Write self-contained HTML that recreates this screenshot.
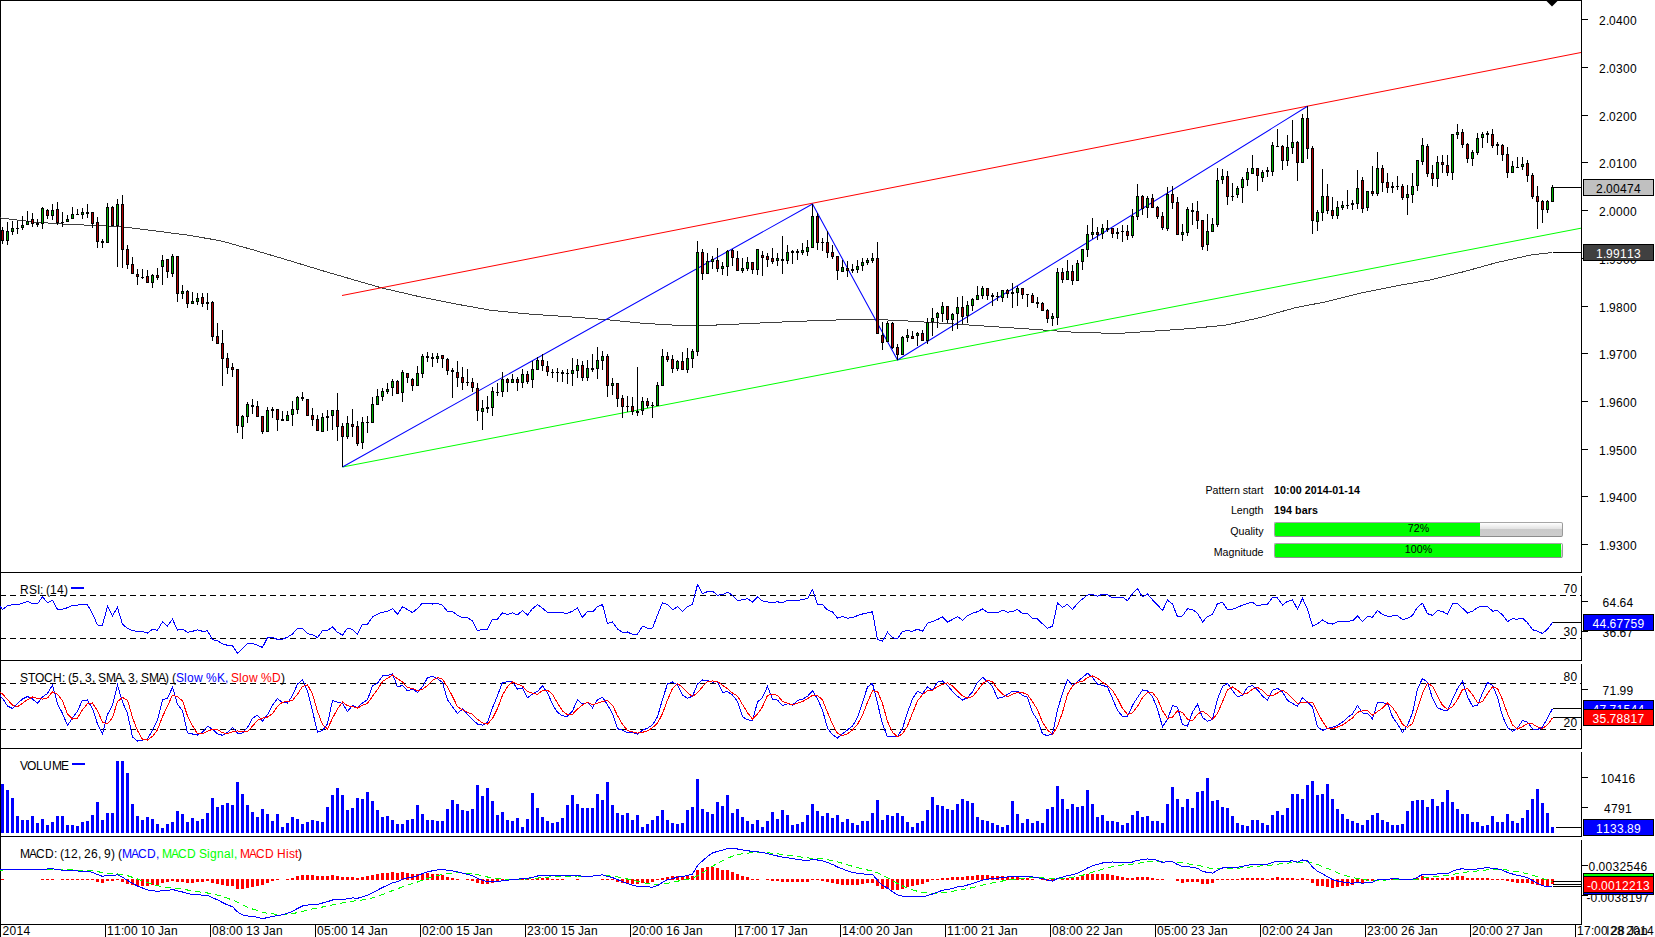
<!DOCTYPE html><html><head><meta charset="utf-8"><title>Chart</title><style>
html,body{margin:0;padding:0;background:#fff}
body{width:1655px;height:937px;position:relative;overflow:hidden;font-family:"Liberation Sans",Arial,sans-serif;font-size:12px;color:#000}
.ib{position:absolute;font-size:10.67px;white-space:nowrap;line-height:13px}
.il{left:1140px;width:123.5px;text-align:right}
.iv{left:1274px;font-weight:bold;letter-spacing:0.08px}
.bar{position:absolute;left:1274px;width:287px;height:13px;border:1px solid #a6a6a6;border-bottom-color:#8c8c8c;border-right-color:#9a9a9a;border-radius:2px;background:linear-gradient(#ffffff 0,#e2e2e2 46%,#cacaca 50%,#cdcdcd 100%);overflow:hidden}
.bar i{position:absolute;left:0;top:0;bottom:0;background:#00ff00}
.bar b{position:absolute;left:0;right:0;top:0;text-align:center;font-weight:normal;font-size:10.67px;line-height:11px}

</style></head><body>
<svg width="1655" height="937" viewBox="0 0 1655 937" style="position:absolute;left:0;top:0">
<g shape-rendering="crispEdges">
<rect x="0" y="0" width="1582" height="1" fill="#000"/>
<rect x="0" y="0" width="1" height="937" fill="#000"/>
<rect x="0" y="572" width="1582" height="1" fill="#000"/>
<rect x="0" y="660" width="1582" height="1" fill="#000"/>
<rect x="0" y="748" width="1582" height="1" fill="#000"/>
<rect x="0" y="836" width="1582" height="1" fill="#000"/>
<rect x="0" y="924" width="1582" height="1" fill="#000"/>
<rect x="1581" y="0" width="1" height="573" fill="#000"/>
<rect x="1581" y="576" width="1" height="85" fill="#000"/>
<rect x="1581" y="664" width="1" height="85" fill="#000"/>
<rect x="1581" y="752" width="1" height="85" fill="#000"/>
<rect x="1581" y="840" width="1" height="85" fill="#000"/>
<rect x="1582" y="19" width="6" height="1" fill="#000"/>
<rect x="1582" y="67" width="6" height="1" fill="#000"/>
<rect x="1582" y="115" width="6" height="1" fill="#000"/>
<rect x="1582" y="162" width="6" height="1" fill="#000"/>
<rect x="1582" y="210" width="6" height="1" fill="#000"/>
<rect x="1582" y="258" width="6" height="1" fill="#000"/>
<rect x="1582" y="306" width="6" height="1" fill="#000"/>
<rect x="1582" y="353" width="6" height="1" fill="#000"/>
<rect x="1582" y="401" width="6" height="1" fill="#000"/>
<rect x="1582" y="449" width="6" height="1" fill="#000"/>
<rect x="1582" y="496" width="6" height="1" fill="#000"/>
<rect x="1582" y="544" width="6" height="1" fill="#000"/>
<rect x="1582" y="601" width="6" height="1" fill="#000"/>
<rect x="1582" y="631" width="6" height="1" fill="#000"/>
<rect x="1582" y="689" width="6" height="1" fill="#000"/>
<rect x="1582" y="777" width="6" height="1" fill="#000"/>
<rect x="1582" y="807" width="6" height="1" fill="#000"/>
<rect x="1582" y="865" width="6" height="1" fill="#000"/>
<rect x="1582" y="895" width="6" height="1" fill="#000"/>
<rect x="105" y="925" width="1" height="12" fill="#000"/>
<rect x="210" y="925" width="1" height="12" fill="#000"/>
<rect x="315" y="925" width="1" height="12" fill="#000"/>
<rect x="420" y="925" width="1" height="12" fill="#000"/>
<rect x="525" y="925" width="1" height="12" fill="#000"/>
<rect x="630" y="925" width="1" height="12" fill="#000"/>
<rect x="735" y="925" width="1" height="12" fill="#000"/>
<rect x="840" y="925" width="1" height="12" fill="#000"/>
<rect x="945" y="925" width="1" height="12" fill="#000"/>
<rect x="1050" y="925" width="1" height="12" fill="#000"/>
<rect x="1155" y="925" width="1" height="12" fill="#000"/>
<rect x="1260" y="925" width="1" height="12" fill="#000"/>
<rect x="1365" y="925" width="1" height="12" fill="#000"/>
<rect x="1470" y="925" width="1" height="12" fill="#000"/>
<rect x="1575" y="925" width="1" height="12" fill="#000"/>
</g>
<polyline points="0.0,217.9 33.8,222.0 67.7,224.4 101.5,225.7 125.0,227.1 152.0,230.5 186.0,234.9 220.0,240.6 254.0,250.1 288.0,260.2 321.5,270.4 355.0,280.2 382.0,288.0 423.0,297.5 457.0,304.2 491.0,310.3 524.5,313.7 540.0,314.8 573.8,317.1 607.7,319.8 641.5,323.2 675.4,325.2 695.7,325.9 726.0,324.6 777.0,322.2 827.6,320.2 871.6,319.2 912.0,321.2 963.0,324.6 1013.8,328.0 1047.6,330.3 1073.8,332.2 1117.8,333.5 1158.4,330.8 1192.3,328.4 1226.0,325.1 1260.0,317.6 1293.8,308.1 1327.7,301.4 1361.5,292.9 1395.3,286.1 1429.2,280.1 1463.0,271.9 1497.0,262.5 1530.7,255.0 1552.5,252.5" fill="none" stroke="#404040" stroke-width="1" shape-rendering="crispEdges"/>
<line x1="1552.5" y1="252.5" x2="1581" y2="252.5" stroke="#000" stroke-width="1" shape-rendering="crispEdges"/>
<line x1="342" y1="295.5" x2="1581" y2="52.5" stroke="#ff0000" stroke-width="1"/>
<line x1="342.5" y1="467" x2="1581" y2="228.2" stroke="#00ff00" stroke-width="1"/>
<polyline points="342.5,467.0 812.5,204.0 897.5,360.0 1307.5,106.3" fill="none" stroke="#0000ff" stroke-width="1.05" />
<g shape-rendering="crispEdges">
<rect x="2" y="227" width="1" height="17" fill="#000"/>
<rect x="1" y="230" width="3" height="11" fill="#000"/>
<rect x="2" y="231" width="1" height="9" fill="#b00000"/>
<rect x="7" y="222" width="1" height="23" fill="#000"/>
<rect x="6" y="231" width="3" height="10" fill="#000"/>
<rect x="7" y="232" width="1" height="8" fill="#00b000"/>
<rect x="12" y="221" width="1" height="14" fill="#000"/>
<rect x="11" y="228" width="3" height="4" fill="#000"/>
<rect x="12" y="229" width="1" height="2" fill="#00b000"/>
<rect x="17" y="221" width="1" height="13" fill="#000"/>
<rect x="16" y="228" width="3" height="1" fill="#000"/>
<rect x="22" y="216" width="1" height="14" fill="#000"/>
<rect x="21" y="225" width="3" height="3" fill="#000"/>
<rect x="22" y="226" width="1" height="1" fill="#00b000"/>
<rect x="27" y="211" width="1" height="14" fill="#000"/>
<rect x="26" y="221" width="3" height="4" fill="#000"/>
<rect x="27" y="222" width="1" height="2" fill="#00b000"/>
<rect x="32" y="213" width="1" height="14" fill="#000"/>
<rect x="31" y="219" width="3" height="5" fill="#000"/>
<rect x="32" y="220" width="1" height="3" fill="#b00000"/>
<rect x="37" y="219" width="1" height="8" fill="#000"/>
<rect x="36" y="223" width="3" height="2" fill="#000"/>
<rect x="42" y="207" width="1" height="22" fill="#000"/>
<rect x="41" y="208" width="3" height="16" fill="#000"/>
<rect x="42" y="209" width="1" height="14" fill="#00b000"/>
<rect x="47" y="209" width="1" height="10" fill="#000"/>
<rect x="46" y="210" width="3" height="6" fill="#000"/>
<rect x="47" y="211" width="1" height="4" fill="#b00000"/>
<rect x="52" y="204" width="1" height="16" fill="#000"/>
<rect x="51" y="210" width="3" height="6" fill="#000"/>
<rect x="52" y="211" width="1" height="4" fill="#00b000"/>
<rect x="57" y="202" width="1" height="23" fill="#000"/>
<rect x="56" y="209" width="3" height="14" fill="#000"/>
<rect x="57" y="210" width="1" height="12" fill="#b00000"/>
<rect x="62" y="212" width="1" height="15" fill="#000"/>
<rect x="61" y="222" width="3" height="1" fill="#000"/>
<rect x="67" y="215" width="1" height="7" fill="#000"/>
<rect x="66" y="219" width="3" height="3" fill="#000"/>
<rect x="67" y="220" width="1" height="1" fill="#00b000"/>
<rect x="72" y="207" width="1" height="12" fill="#000"/>
<rect x="71" y="214" width="3" height="5" fill="#000"/>
<rect x="72" y="215" width="1" height="3" fill="#00b000"/>
<rect x="77" y="209" width="1" height="5" fill="#000"/>
<rect x="76" y="214" width="3" height="1" fill="#000"/>
<rect x="82" y="208" width="1" height="11" fill="#000"/>
<rect x="81" y="212" width="3" height="3" fill="#000"/>
<rect x="82" y="213" width="1" height="1" fill="#00b000"/>
<rect x="87" y="204" width="1" height="14" fill="#000"/>
<rect x="86" y="212" width="3" height="2" fill="#000"/>
<rect x="92" y="212" width="1" height="16" fill="#000"/>
<rect x="91" y="212" width="3" height="12" fill="#000"/>
<rect x="92" y="213" width="1" height="10" fill="#b00000"/>
<rect x="97" y="217" width="1" height="31" fill="#000"/>
<rect x="96" y="222" width="3" height="20" fill="#000"/>
<rect x="97" y="223" width="1" height="18" fill="#b00000"/>
<rect x="102" y="239" width="1" height="9" fill="#000"/>
<rect x="101" y="241" width="3" height="2" fill="#000"/>
<rect x="107" y="203" width="1" height="40" fill="#000"/>
<rect x="106" y="207" width="3" height="36" fill="#000"/>
<rect x="107" y="208" width="1" height="34" fill="#00b000"/>
<rect x="112" y="206" width="1" height="20" fill="#000"/>
<rect x="111" y="207" width="3" height="19" fill="#000"/>
<rect x="112" y="208" width="1" height="17" fill="#b00000"/>
<rect x="117" y="199" width="1" height="68" fill="#000"/>
<rect x="116" y="204" width="3" height="22" fill="#000"/>
<rect x="117" y="205" width="1" height="20" fill="#00b000"/>
<rect x="122" y="195" width="1" height="73" fill="#000"/>
<rect x="121" y="204" width="3" height="46" fill="#000"/>
<rect x="122" y="205" width="1" height="44" fill="#b00000"/>
<rect x="127" y="245" width="1" height="24" fill="#000"/>
<rect x="126" y="249" width="3" height="16" fill="#000"/>
<rect x="127" y="250" width="1" height="14" fill="#b00000"/>
<rect x="132" y="257" width="1" height="17" fill="#000"/>
<rect x="131" y="264" width="3" height="10" fill="#000"/>
<rect x="132" y="265" width="1" height="8" fill="#b00000"/>
<rect x="137" y="269" width="1" height="16" fill="#000"/>
<rect x="136" y="274" width="3" height="3" fill="#000"/>
<rect x="137" y="275" width="1" height="1" fill="#b00000"/>
<rect x="142" y="269" width="1" height="10" fill="#000"/>
<rect x="141" y="277" width="3" height="1" fill="#000"/>
<rect x="147" y="270" width="1" height="13" fill="#000"/>
<rect x="146" y="276" width="3" height="7" fill="#000"/>
<rect x="147" y="277" width="1" height="5" fill="#b00000"/>
<rect x="152" y="274" width="1" height="14" fill="#000"/>
<rect x="151" y="275" width="3" height="8" fill="#000"/>
<rect x="152" y="276" width="1" height="6" fill="#00b000"/>
<rect x="157" y="268" width="1" height="12" fill="#000"/>
<rect x="156" y="275" width="3" height="3" fill="#000"/>
<rect x="157" y="276" width="1" height="1" fill="#b00000"/>
<rect x="162" y="255" width="1" height="30" fill="#000"/>
<rect x="161" y="260" width="3" height="7" fill="#000"/>
<rect x="162" y="261" width="1" height="5" fill="#00b000"/>
<rect x="167" y="259" width="1" height="19" fill="#000"/>
<rect x="166" y="259" width="3" height="13" fill="#000"/>
<rect x="167" y="260" width="1" height="11" fill="#b00000"/>
<rect x="172" y="254" width="1" height="23" fill="#000"/>
<rect x="171" y="256" width="3" height="18" fill="#000"/>
<rect x="172" y="257" width="1" height="16" fill="#00b000"/>
<rect x="177" y="256" width="1" height="46" fill="#000"/>
<rect x="176" y="256" width="3" height="38" fill="#000"/>
<rect x="177" y="257" width="1" height="36" fill="#b00000"/>
<rect x="182" y="285" width="1" height="14" fill="#000"/>
<rect x="181" y="291" width="3" height="3" fill="#000"/>
<rect x="182" y="292" width="1" height="1" fill="#00b000"/>
<rect x="187" y="290" width="1" height="18" fill="#000"/>
<rect x="186" y="291" width="3" height="13" fill="#000"/>
<rect x="187" y="292" width="1" height="11" fill="#b00000"/>
<rect x="192" y="292" width="1" height="12" fill="#000"/>
<rect x="191" y="301" width="3" height="3" fill="#000"/>
<rect x="192" y="302" width="1" height="1" fill="#00b000"/>
<rect x="197" y="293" width="1" height="12" fill="#000"/>
<rect x="196" y="298" width="3" height="4" fill="#000"/>
<rect x="197" y="299" width="1" height="2" fill="#00b000"/>
<rect x="202" y="293" width="1" height="14" fill="#000"/>
<rect x="201" y="297" width="3" height="7" fill="#000"/>
<rect x="202" y="298" width="1" height="5" fill="#b00000"/>
<rect x="207" y="293" width="1" height="17" fill="#000"/>
<rect x="206" y="302" width="3" height="2" fill="#000"/>
<rect x="212" y="301" width="1" height="40" fill="#000"/>
<rect x="211" y="302" width="3" height="35" fill="#000"/>
<rect x="212" y="303" width="1" height="33" fill="#b00000"/>
<rect x="217" y="323" width="1" height="21" fill="#000"/>
<rect x="216" y="336" width="3" height="8" fill="#000"/>
<rect x="217" y="337" width="1" height="6" fill="#b00000"/>
<rect x="222" y="330" width="1" height="56" fill="#000"/>
<rect x="221" y="343" width="3" height="16" fill="#000"/>
<rect x="222" y="344" width="1" height="14" fill="#b00000"/>
<rect x="227" y="353" width="1" height="21" fill="#000"/>
<rect x="226" y="358" width="3" height="10" fill="#000"/>
<rect x="227" y="359" width="1" height="8" fill="#b00000"/>
<rect x="232" y="363" width="1" height="14" fill="#000"/>
<rect x="231" y="367" width="3" height="3" fill="#000"/>
<rect x="232" y="368" width="1" height="1" fill="#b00000"/>
<rect x="237" y="369" width="1" height="64" fill="#000"/>
<rect x="236" y="369" width="3" height="57" fill="#000"/>
<rect x="237" y="370" width="1" height="55" fill="#b00000"/>
<rect x="242" y="415" width="1" height="24" fill="#000"/>
<rect x="241" y="416" width="3" height="11" fill="#000"/>
<rect x="242" y="417" width="1" height="9" fill="#00b000"/>
<rect x="247" y="402" width="1" height="21" fill="#000"/>
<rect x="246" y="404" width="3" height="13" fill="#000"/>
<rect x="247" y="405" width="1" height="11" fill="#00b000"/>
<rect x="252" y="399" width="1" height="15" fill="#000"/>
<rect x="251" y="405" width="3" height="2" fill="#000"/>
<rect x="257" y="401" width="1" height="16" fill="#000"/>
<rect x="256" y="406" width="3" height="11" fill="#000"/>
<rect x="257" y="407" width="1" height="9" fill="#b00000"/>
<rect x="262" y="416" width="1" height="18" fill="#000"/>
<rect x="261" y="416" width="3" height="16" fill="#000"/>
<rect x="262" y="417" width="1" height="14" fill="#b00000"/>
<rect x="267" y="407" width="1" height="25" fill="#000"/>
<rect x="266" y="410" width="3" height="22" fill="#000"/>
<rect x="267" y="411" width="1" height="20" fill="#00b000"/>
<rect x="272" y="407" width="1" height="11" fill="#000"/>
<rect x="271" y="409" width="3" height="2" fill="#000"/>
<rect x="277" y="409" width="1" height="22" fill="#000"/>
<rect x="276" y="409" width="3" height="11" fill="#000"/>
<rect x="277" y="410" width="1" height="9" fill="#b00000"/>
<rect x="282" y="411" width="1" height="10" fill="#000"/>
<rect x="281" y="419" width="3" height="2" fill="#000"/>
<rect x="287" y="411" width="1" height="10" fill="#000"/>
<rect x="286" y="415" width="3" height="6" fill="#000"/>
<rect x="287" y="416" width="1" height="4" fill="#00b000"/>
<rect x="292" y="401" width="1" height="25" fill="#000"/>
<rect x="291" y="409" width="3" height="6" fill="#000"/>
<rect x="292" y="410" width="1" height="4" fill="#00b000"/>
<rect x="297" y="396" width="1" height="18" fill="#000"/>
<rect x="296" y="397" width="3" height="13" fill="#000"/>
<rect x="297" y="398" width="1" height="11" fill="#00b000"/>
<rect x="302" y="392" width="1" height="9" fill="#000"/>
<rect x="301" y="397" width="3" height="2" fill="#000"/>
<rect x="307" y="399" width="1" height="17" fill="#000"/>
<rect x="306" y="399" width="3" height="17" fill="#000"/>
<rect x="307" y="400" width="1" height="15" fill="#b00000"/>
<rect x="312" y="408" width="1" height="18" fill="#000"/>
<rect x="311" y="415" width="3" height="5" fill="#000"/>
<rect x="312" y="416" width="1" height="3" fill="#b00000"/>
<rect x="317" y="415" width="1" height="16" fill="#000"/>
<rect x="316" y="419" width="3" height="12" fill="#000"/>
<rect x="317" y="420" width="1" height="10" fill="#b00000"/>
<rect x="322" y="413" width="1" height="19" fill="#000"/>
<rect x="321" y="417" width="3" height="15" fill="#000"/>
<rect x="322" y="418" width="1" height="13" fill="#00b000"/>
<rect x="327" y="410" width="1" height="21" fill="#000"/>
<rect x="326" y="416" width="3" height="2" fill="#000"/>
<rect x="332" y="410" width="1" height="20" fill="#000"/>
<rect x="331" y="410" width="3" height="6" fill="#000"/>
<rect x="332" y="411" width="1" height="4" fill="#00b000"/>
<rect x="337" y="393" width="1" height="48" fill="#000"/>
<rect x="336" y="410" width="3" height="17" fill="#000"/>
<rect x="337" y="411" width="1" height="15" fill="#b00000"/>
<rect x="342" y="423" width="1" height="44" fill="#000"/>
<rect x="341" y="426" width="3" height="11" fill="#000"/>
<rect x="342" y="427" width="1" height="9" fill="#b00000"/>
<rect x="347" y="416" width="1" height="23" fill="#000"/>
<rect x="346" y="423" width="3" height="14" fill="#000"/>
<rect x="347" y="424" width="1" height="12" fill="#00b000"/>
<rect x="352" y="409" width="1" height="28" fill="#000"/>
<rect x="351" y="424" width="3" height="3" fill="#000"/>
<rect x="352" y="425" width="1" height="1" fill="#b00000"/>
<rect x="357" y="421" width="1" height="25" fill="#000"/>
<rect x="356" y="426" width="3" height="18" fill="#000"/>
<rect x="357" y="427" width="1" height="16" fill="#b00000"/>
<rect x="362" y="417" width="1" height="32" fill="#000"/>
<rect x="361" y="422" width="3" height="21" fill="#000"/>
<rect x="362" y="423" width="1" height="19" fill="#00b000"/>
<rect x="367" y="416" width="1" height="17" fill="#000"/>
<rect x="366" y="422" width="3" height="1" fill="#000"/>
<rect x="372" y="397" width="1" height="26" fill="#000"/>
<rect x="371" y="404" width="3" height="19" fill="#000"/>
<rect x="372" y="405" width="1" height="17" fill="#00b000"/>
<rect x="377" y="389" width="1" height="16" fill="#000"/>
<rect x="376" y="396" width="3" height="9" fill="#000"/>
<rect x="377" y="397" width="1" height="7" fill="#00b000"/>
<rect x="382" y="388" width="1" height="13" fill="#000"/>
<rect x="381" y="391" width="3" height="6" fill="#000"/>
<rect x="382" y="392" width="1" height="4" fill="#00b000"/>
<rect x="387" y="383" width="1" height="11" fill="#000"/>
<rect x="386" y="389" width="3" height="3" fill="#000"/>
<rect x="387" y="390" width="1" height="1" fill="#00b000"/>
<rect x="392" y="379" width="1" height="17" fill="#000"/>
<rect x="391" y="381" width="3" height="7" fill="#000"/>
<rect x="392" y="382" width="1" height="5" fill="#00b000"/>
<rect x="397" y="380" width="1" height="14" fill="#000"/>
<rect x="396" y="381" width="3" height="13" fill="#000"/>
<rect x="397" y="382" width="1" height="11" fill="#b00000"/>
<rect x="402" y="370" width="1" height="32" fill="#000"/>
<rect x="401" y="372" width="3" height="21" fill="#000"/>
<rect x="402" y="373" width="1" height="19" fill="#00b000"/>
<rect x="407" y="373" width="1" height="10" fill="#000"/>
<rect x="406" y="373" width="3" height="5" fill="#000"/>
<rect x="407" y="374" width="1" height="3" fill="#b00000"/>
<rect x="412" y="378" width="1" height="13" fill="#000"/>
<rect x="411" y="379" width="3" height="7" fill="#000"/>
<rect x="412" y="380" width="1" height="5" fill="#b00000"/>
<rect x="417" y="366" width="1" height="20" fill="#000"/>
<rect x="416" y="373" width="3" height="13" fill="#000"/>
<rect x="417" y="374" width="1" height="11" fill="#00b000"/>
<rect x="422" y="354" width="1" height="24" fill="#000"/>
<rect x="421" y="356" width="3" height="18" fill="#000"/>
<rect x="422" y="357" width="1" height="16" fill="#00b000"/>
<rect x="427" y="352" width="1" height="10" fill="#000"/>
<rect x="426" y="356" width="3" height="2" fill="#000"/>
<rect x="432" y="353" width="1" height="14" fill="#000"/>
<rect x="431" y="357" width="3" height="2" fill="#000"/>
<rect x="437" y="353" width="1" height="10" fill="#000"/>
<rect x="436" y="356" width="3" height="3" fill="#000"/>
<rect x="437" y="357" width="1" height="1" fill="#00b000"/>
<rect x="442" y="355" width="1" height="13" fill="#000"/>
<rect x="441" y="355" width="3" height="4" fill="#000"/>
<rect x="442" y="356" width="1" height="2" fill="#b00000"/>
<rect x="447" y="358" width="1" height="17" fill="#000"/>
<rect x="446" y="359" width="3" height="12" fill="#000"/>
<rect x="447" y="360" width="1" height="10" fill="#b00000"/>
<rect x="452" y="368" width="1" height="30" fill="#000"/>
<rect x="451" y="370" width="3" height="2" fill="#000"/>
<rect x="457" y="361" width="1" height="26" fill="#000"/>
<rect x="456" y="372" width="3" height="6" fill="#000"/>
<rect x="457" y="373" width="1" height="4" fill="#b00000"/>
<rect x="462" y="367" width="1" height="23" fill="#000"/>
<rect x="461" y="377" width="3" height="6" fill="#000"/>
<rect x="462" y="378" width="1" height="4" fill="#b00000"/>
<rect x="467" y="369" width="1" height="17" fill="#000"/>
<rect x="466" y="382" width="3" height="1" fill="#000"/>
<rect x="472" y="378" width="1" height="14" fill="#000"/>
<rect x="471" y="382" width="3" height="6" fill="#000"/>
<rect x="472" y="383" width="1" height="4" fill="#b00000"/>
<rect x="477" y="383" width="1" height="38" fill="#000"/>
<rect x="476" y="388" width="3" height="23" fill="#000"/>
<rect x="477" y="389" width="1" height="21" fill="#b00000"/>
<rect x="482" y="400" width="1" height="30" fill="#000"/>
<rect x="481" y="408" width="3" height="4" fill="#000"/>
<rect x="482" y="409" width="1" height="2" fill="#00b000"/>
<rect x="487" y="396" width="1" height="17" fill="#000"/>
<rect x="486" y="407" width="3" height="2" fill="#000"/>
<rect x="492" y="387" width="1" height="29" fill="#000"/>
<rect x="491" y="391" width="3" height="17" fill="#000"/>
<rect x="492" y="392" width="1" height="15" fill="#00b000"/>
<rect x="497" y="383" width="1" height="13" fill="#000"/>
<rect x="496" y="392" width="3" height="1" fill="#000"/>
<rect x="502" y="372" width="1" height="25" fill="#000"/>
<rect x="501" y="379" width="3" height="13" fill="#000"/>
<rect x="502" y="380" width="1" height="11" fill="#00b000"/>
<rect x="507" y="378" width="1" height="14" fill="#000"/>
<rect x="506" y="379" width="3" height="4" fill="#000"/>
<rect x="507" y="380" width="1" height="2" fill="#b00000"/>
<rect x="512" y="374" width="1" height="9" fill="#000"/>
<rect x="511" y="379" width="3" height="4" fill="#000"/>
<rect x="512" y="380" width="1" height="2" fill="#00b000"/>
<rect x="517" y="377" width="1" height="14" fill="#000"/>
<rect x="516" y="379" width="3" height="4" fill="#000"/>
<rect x="517" y="380" width="1" height="2" fill="#b00000"/>
<rect x="522" y="369" width="1" height="19" fill="#000"/>
<rect x="521" y="374" width="3" height="9" fill="#000"/>
<rect x="522" y="375" width="1" height="7" fill="#00b000"/>
<rect x="527" y="371" width="1" height="13" fill="#000"/>
<rect x="526" y="374" width="3" height="8" fill="#000"/>
<rect x="527" y="375" width="1" height="6" fill="#b00000"/>
<rect x="532" y="361" width="1" height="27" fill="#000"/>
<rect x="531" y="369" width="3" height="11" fill="#000"/>
<rect x="532" y="370" width="1" height="9" fill="#00b000"/>
<rect x="537" y="357" width="1" height="13" fill="#000"/>
<rect x="536" y="360" width="3" height="10" fill="#000"/>
<rect x="537" y="361" width="1" height="8" fill="#00b000"/>
<rect x="542" y="354" width="1" height="17" fill="#000"/>
<rect x="541" y="360" width="3" height="6" fill="#000"/>
<rect x="542" y="361" width="1" height="4" fill="#b00000"/>
<rect x="547" y="361" width="1" height="15" fill="#000"/>
<rect x="546" y="366" width="3" height="6" fill="#000"/>
<rect x="547" y="367" width="1" height="4" fill="#b00000"/>
<rect x="552" y="369" width="1" height="9" fill="#000"/>
<rect x="551" y="372" width="3" height="1" fill="#000"/>
<rect x="557" y="368" width="1" height="14" fill="#000"/>
<rect x="556" y="372" width="3" height="1" fill="#000"/>
<rect x="562" y="370" width="1" height="12" fill="#000"/>
<rect x="561" y="372" width="3" height="2" fill="#000"/>
<rect x="567" y="369" width="1" height="15" fill="#000"/>
<rect x="566" y="373" width="3" height="1" fill="#000"/>
<rect x="572" y="358" width="1" height="28" fill="#000"/>
<rect x="571" y="370" width="3" height="4" fill="#000"/>
<rect x="572" y="371" width="1" height="2" fill="#00b000"/>
<rect x="577" y="359" width="1" height="19" fill="#000"/>
<rect x="576" y="365" width="3" height="6" fill="#000"/>
<rect x="577" y="366" width="1" height="4" fill="#00b000"/>
<rect x="582" y="361" width="1" height="20" fill="#000"/>
<rect x="581" y="365" width="3" height="13" fill="#000"/>
<rect x="582" y="366" width="1" height="11" fill="#b00000"/>
<rect x="587" y="360" width="1" height="21" fill="#000"/>
<rect x="586" y="368" width="3" height="10" fill="#000"/>
<rect x="587" y="369" width="1" height="8" fill="#00b000"/>
<rect x="592" y="354" width="1" height="18" fill="#000"/>
<rect x="591" y="368" width="3" height="2" fill="#000"/>
<rect x="597" y="347" width="1" height="32" fill="#000"/>
<rect x="596" y="360" width="3" height="9" fill="#000"/>
<rect x="597" y="361" width="1" height="7" fill="#00b000"/>
<rect x="602" y="351" width="1" height="19" fill="#000"/>
<rect x="601" y="356" width="3" height="5" fill="#000"/>
<rect x="602" y="357" width="1" height="3" fill="#00b000"/>
<rect x="607" y="354" width="1" height="43" fill="#000"/>
<rect x="606" y="356" width="3" height="30" fill="#000"/>
<rect x="607" y="357" width="1" height="28" fill="#b00000"/>
<rect x="612" y="378" width="1" height="17" fill="#000"/>
<rect x="611" y="383" width="3" height="3" fill="#000"/>
<rect x="612" y="384" width="1" height="1" fill="#00b000"/>
<rect x="617" y="383" width="1" height="24" fill="#000"/>
<rect x="616" y="383" width="3" height="16" fill="#000"/>
<rect x="617" y="384" width="1" height="14" fill="#b00000"/>
<rect x="622" y="395" width="1" height="23" fill="#000"/>
<rect x="621" y="398" width="3" height="9" fill="#000"/>
<rect x="622" y="399" width="1" height="7" fill="#b00000"/>
<rect x="627" y="396" width="1" height="16" fill="#000"/>
<rect x="626" y="406" width="3" height="1" fill="#000"/>
<rect x="632" y="397" width="1" height="18" fill="#000"/>
<rect x="631" y="406" width="3" height="6" fill="#000"/>
<rect x="632" y="407" width="1" height="4" fill="#b00000"/>
<rect x="637" y="367" width="1" height="49" fill="#000"/>
<rect x="636" y="411" width="3" height="2" fill="#000"/>
<rect x="642" y="397" width="1" height="18" fill="#000"/>
<rect x="641" y="401" width="3" height="10" fill="#000"/>
<rect x="642" y="402" width="1" height="8" fill="#00b000"/>
<rect x="647" y="398" width="1" height="10" fill="#000"/>
<rect x="646" y="401" width="3" height="5" fill="#000"/>
<rect x="647" y="402" width="1" height="3" fill="#b00000"/>
<rect x="652" y="402" width="1" height="16" fill="#000"/>
<rect x="651" y="405" width="3" height="1" fill="#000"/>
<rect x="657" y="382" width="1" height="24" fill="#000"/>
<rect x="656" y="385" width="3" height="21" fill="#000"/>
<rect x="657" y="386" width="1" height="19" fill="#00b000"/>
<rect x="662" y="349" width="1" height="37" fill="#000"/>
<rect x="661" y="356" width="3" height="30" fill="#000"/>
<rect x="662" y="357" width="1" height="28" fill="#00b000"/>
<rect x="667" y="352" width="1" height="10" fill="#000"/>
<rect x="666" y="356" width="3" height="4" fill="#000"/>
<rect x="667" y="357" width="1" height="2" fill="#b00000"/>
<rect x="672" y="355" width="1" height="18" fill="#000"/>
<rect x="671" y="359" width="3" height="10" fill="#000"/>
<rect x="672" y="360" width="1" height="8" fill="#b00000"/>
<rect x="677" y="360" width="1" height="11" fill="#000"/>
<rect x="676" y="361" width="3" height="8" fill="#000"/>
<rect x="677" y="362" width="1" height="6" fill="#00b000"/>
<rect x="682" y="352" width="1" height="18" fill="#000"/>
<rect x="681" y="361" width="3" height="9" fill="#000"/>
<rect x="682" y="362" width="1" height="7" fill="#b00000"/>
<rect x="687" y="348" width="1" height="25" fill="#000"/>
<rect x="686" y="358" width="3" height="12" fill="#000"/>
<rect x="687" y="359" width="1" height="10" fill="#00b000"/>
<rect x="692" y="349" width="1" height="19" fill="#000"/>
<rect x="691" y="351" width="3" height="8" fill="#000"/>
<rect x="692" y="352" width="1" height="6" fill="#00b000"/>
<rect x="697" y="241" width="1" height="115" fill="#000"/>
<rect x="696" y="252" width="3" height="100" fill="#000"/>
<rect x="697" y="253" width="1" height="98" fill="#00b000"/>
<rect x="702" y="249" width="1" height="31" fill="#000"/>
<rect x="701" y="252" width="3" height="22" fill="#000"/>
<rect x="702" y="253" width="1" height="20" fill="#b00000"/>
<rect x="707" y="253" width="1" height="21" fill="#000"/>
<rect x="706" y="261" width="3" height="13" fill="#000"/>
<rect x="707" y="262" width="1" height="11" fill="#00b000"/>
<rect x="712" y="256" width="1" height="13" fill="#000"/>
<rect x="711" y="259" width="3" height="3" fill="#000"/>
<rect x="712" y="260" width="1" height="1" fill="#00b000"/>
<rect x="717" y="248" width="1" height="24" fill="#000"/>
<rect x="716" y="260" width="3" height="9" fill="#000"/>
<rect x="717" y="261" width="1" height="7" fill="#b00000"/>
<rect x="722" y="262" width="1" height="13" fill="#000"/>
<rect x="721" y="266" width="3" height="3" fill="#000"/>
<rect x="722" y="267" width="1" height="1" fill="#00b000"/>
<rect x="727" y="250" width="1" height="26" fill="#000"/>
<rect x="726" y="251" width="3" height="16" fill="#000"/>
<rect x="727" y="252" width="1" height="14" fill="#00b000"/>
<rect x="732" y="249" width="1" height="17" fill="#000"/>
<rect x="731" y="250" width="3" height="8" fill="#000"/>
<rect x="732" y="251" width="1" height="6" fill="#b00000"/>
<rect x="737" y="251" width="1" height="20" fill="#000"/>
<rect x="736" y="258" width="3" height="13" fill="#000"/>
<rect x="737" y="259" width="1" height="11" fill="#b00000"/>
<rect x="742" y="258" width="1" height="15" fill="#000"/>
<rect x="741" y="268" width="3" height="3" fill="#000"/>
<rect x="742" y="269" width="1" height="1" fill="#00b000"/>
<rect x="747" y="257" width="1" height="14" fill="#000"/>
<rect x="746" y="262" width="3" height="7" fill="#000"/>
<rect x="747" y="263" width="1" height="5" fill="#00b000"/>
<rect x="752" y="262" width="1" height="12" fill="#000"/>
<rect x="751" y="262" width="3" height="8" fill="#000"/>
<rect x="752" y="263" width="1" height="6" fill="#b00000"/>
<rect x="757" y="249" width="1" height="26" fill="#000"/>
<rect x="756" y="249" width="3" height="21" fill="#000"/>
<rect x="757" y="250" width="1" height="19" fill="#00b000"/>
<rect x="762" y="251" width="1" height="25" fill="#000"/>
<rect x="761" y="255" width="3" height="3" fill="#000"/>
<rect x="762" y="256" width="1" height="1" fill="#b00000"/>
<rect x="767" y="253" width="1" height="14" fill="#000"/>
<rect x="766" y="256" width="3" height="4" fill="#000"/>
<rect x="767" y="257" width="1" height="2" fill="#b00000"/>
<rect x="772" y="248" width="1" height="16" fill="#000"/>
<rect x="771" y="258" width="3" height="4" fill="#000"/>
<rect x="772" y="259" width="1" height="2" fill="#b00000"/>
<rect x="777" y="253" width="1" height="13" fill="#000"/>
<rect x="776" y="258" width="3" height="3" fill="#000"/>
<rect x="777" y="259" width="1" height="1" fill="#00b000"/>
<rect x="782" y="236" width="1" height="38" fill="#000"/>
<rect x="781" y="259" width="3" height="2" fill="#000"/>
<rect x="787" y="245" width="1" height="19" fill="#000"/>
<rect x="786" y="252" width="3" height="9" fill="#000"/>
<rect x="787" y="253" width="1" height="7" fill="#00b000"/>
<rect x="792" y="250" width="1" height="14" fill="#000"/>
<rect x="791" y="251" width="3" height="2" fill="#000"/>
<rect x="797" y="249" width="1" height="11" fill="#000"/>
<rect x="796" y="251" width="3" height="2" fill="#000"/>
<rect x="802" y="243" width="1" height="12" fill="#000"/>
<rect x="801" y="250" width="3" height="3" fill="#000"/>
<rect x="802" y="251" width="1" height="1" fill="#00b000"/>
<rect x="807" y="240" width="1" height="16" fill="#000"/>
<rect x="806" y="247" width="3" height="5" fill="#000"/>
<rect x="807" y="248" width="1" height="3" fill="#00b000"/>
<rect x="812" y="204" width="1" height="44" fill="#000"/>
<rect x="811" y="216" width="3" height="32" fill="#000"/>
<rect x="812" y="217" width="1" height="30" fill="#00b000"/>
<rect x="817" y="213" width="1" height="37" fill="#000"/>
<rect x="816" y="216" width="3" height="27" fill="#000"/>
<rect x="817" y="217" width="1" height="25" fill="#b00000"/>
<rect x="822" y="238" width="1" height="13" fill="#000"/>
<rect x="821" y="242" width="3" height="1" fill="#000"/>
<rect x="827" y="231" width="1" height="27" fill="#000"/>
<rect x="826" y="242" width="3" height="11" fill="#000"/>
<rect x="827" y="243" width="1" height="9" fill="#b00000"/>
<rect x="832" y="245" width="1" height="14" fill="#000"/>
<rect x="831" y="252" width="3" height="5" fill="#000"/>
<rect x="832" y="253" width="1" height="3" fill="#b00000"/>
<rect x="837" y="256" width="1" height="24" fill="#000"/>
<rect x="836" y="256" width="3" height="15" fill="#000"/>
<rect x="837" y="257" width="1" height="13" fill="#b00000"/>
<rect x="842" y="260" width="1" height="12" fill="#000"/>
<rect x="841" y="267" width="3" height="5" fill="#000"/>
<rect x="842" y="268" width="1" height="3" fill="#00b000"/>
<rect x="847" y="261" width="1" height="16" fill="#000"/>
<rect x="846" y="268" width="3" height="3" fill="#000"/>
<rect x="847" y="269" width="1" height="1" fill="#b00000"/>
<rect x="852" y="264" width="1" height="9" fill="#000"/>
<rect x="851" y="269" width="3" height="2" fill="#000"/>
<rect x="857" y="260" width="1" height="13" fill="#000"/>
<rect x="856" y="266" width="3" height="4" fill="#000"/>
<rect x="857" y="267" width="1" height="2" fill="#00b000"/>
<rect x="862" y="258" width="1" height="13" fill="#000"/>
<rect x="861" y="262" width="3" height="4" fill="#000"/>
<rect x="862" y="263" width="1" height="2" fill="#00b000"/>
<rect x="867" y="258" width="1" height="7" fill="#000"/>
<rect x="866" y="260" width="3" height="3" fill="#000"/>
<rect x="867" y="261" width="1" height="1" fill="#00b000"/>
<rect x="872" y="253" width="1" height="10" fill="#000"/>
<rect x="871" y="258" width="3" height="3" fill="#000"/>
<rect x="872" y="259" width="1" height="1" fill="#00b000"/>
<rect x="877" y="242" width="1" height="92" fill="#000"/>
<rect x="876" y="258" width="3" height="76" fill="#000"/>
<rect x="877" y="259" width="1" height="74" fill="#b00000"/>
<rect x="882" y="322" width="1" height="28" fill="#000"/>
<rect x="881" y="335" width="3" height="8" fill="#000"/>
<rect x="882" y="336" width="1" height="6" fill="#b00000"/>
<rect x="887" y="321" width="1" height="21" fill="#000"/>
<rect x="886" y="323" width="3" height="19" fill="#000"/>
<rect x="887" y="324" width="1" height="17" fill="#00b000"/>
<rect x="892" y="322" width="1" height="27" fill="#000"/>
<rect x="891" y="323" width="3" height="25" fill="#000"/>
<rect x="892" y="324" width="1" height="23" fill="#b00000"/>
<rect x="897" y="344" width="1" height="16" fill="#000"/>
<rect x="896" y="347" width="3" height="8" fill="#000"/>
<rect x="897" y="348" width="1" height="6" fill="#b00000"/>
<rect x="902" y="336" width="1" height="19" fill="#000"/>
<rect x="901" y="337" width="3" height="18" fill="#000"/>
<rect x="902" y="338" width="1" height="16" fill="#00b000"/>
<rect x="907" y="329" width="1" height="13" fill="#000"/>
<rect x="906" y="335" width="3" height="3" fill="#000"/>
<rect x="907" y="336" width="1" height="1" fill="#00b000"/>
<rect x="912" y="331" width="1" height="7" fill="#000"/>
<rect x="911" y="336" width="3" height="3" fill="#000"/>
<rect x="912" y="337" width="1" height="1" fill="#b00000"/>
<rect x="917" y="332" width="1" height="14" fill="#000"/>
<rect x="916" y="333" width="3" height="3" fill="#000"/>
<rect x="917" y="334" width="1" height="1" fill="#00b000"/>
<rect x="922" y="330" width="1" height="11" fill="#000"/>
<rect x="921" y="333" width="3" height="8" fill="#000"/>
<rect x="922" y="334" width="1" height="6" fill="#b00000"/>
<rect x="927" y="318" width="1" height="26" fill="#000"/>
<rect x="926" y="322" width="3" height="19" fill="#000"/>
<rect x="927" y="323" width="1" height="17" fill="#00b000"/>
<rect x="932" y="308" width="1" height="28" fill="#000"/>
<rect x="931" y="318" width="3" height="4" fill="#000"/>
<rect x="932" y="319" width="1" height="2" fill="#00b000"/>
<rect x="937" y="312" width="1" height="16" fill="#000"/>
<rect x="936" y="313" width="3" height="5" fill="#000"/>
<rect x="937" y="314" width="1" height="3" fill="#00b000"/>
<rect x="942" y="302" width="1" height="20" fill="#000"/>
<rect x="941" y="306" width="3" height="8" fill="#000"/>
<rect x="942" y="307" width="1" height="6" fill="#00b000"/>
<rect x="947" y="306" width="1" height="17" fill="#000"/>
<rect x="946" y="306" width="3" height="14" fill="#000"/>
<rect x="947" y="307" width="1" height="12" fill="#b00000"/>
<rect x="952" y="313" width="1" height="18" fill="#000"/>
<rect x="951" y="314" width="3" height="6" fill="#000"/>
<rect x="952" y="315" width="1" height="4" fill="#00b000"/>
<rect x="957" y="297" width="1" height="32" fill="#000"/>
<rect x="956" y="307" width="3" height="7" fill="#000"/>
<rect x="957" y="308" width="1" height="5" fill="#00b000"/>
<rect x="962" y="296" width="1" height="28" fill="#000"/>
<rect x="961" y="307" width="3" height="10" fill="#000"/>
<rect x="962" y="308" width="1" height="8" fill="#b00000"/>
<rect x="967" y="301" width="1" height="22" fill="#000"/>
<rect x="966" y="305" width="3" height="11" fill="#000"/>
<rect x="967" y="306" width="1" height="9" fill="#00b000"/>
<rect x="972" y="298" width="1" height="13" fill="#000"/>
<rect x="971" y="299" width="3" height="7" fill="#000"/>
<rect x="972" y="300" width="1" height="5" fill="#00b000"/>
<rect x="977" y="286" width="1" height="14" fill="#000"/>
<rect x="976" y="295" width="3" height="5" fill="#000"/>
<rect x="977" y="296" width="1" height="3" fill="#00b000"/>
<rect x="982" y="286" width="1" height="13" fill="#000"/>
<rect x="981" y="288" width="3" height="8" fill="#000"/>
<rect x="982" y="289" width="1" height="6" fill="#00b000"/>
<rect x="987" y="288" width="1" height="12" fill="#000"/>
<rect x="986" y="288" width="3" height="8" fill="#000"/>
<rect x="987" y="289" width="1" height="6" fill="#b00000"/>
<rect x="992" y="293" width="1" height="13" fill="#000"/>
<rect x="991" y="295" width="3" height="2" fill="#000"/>
<rect x="997" y="292" width="1" height="9" fill="#000"/>
<rect x="996" y="296" width="3" height="1" fill="#000"/>
<rect x="1002" y="290" width="1" height="12" fill="#000"/>
<rect x="1001" y="290" width="3" height="8" fill="#000"/>
<rect x="1002" y="291" width="1" height="6" fill="#00b000"/>
<rect x="1007" y="289" width="1" height="9" fill="#000"/>
<rect x="1006" y="290" width="3" height="4" fill="#000"/>
<rect x="1007" y="291" width="1" height="2" fill="#b00000"/>
<rect x="1012" y="283" width="1" height="25" fill="#000"/>
<rect x="1011" y="292" width="3" height="2" fill="#000"/>
<rect x="1017" y="286" width="1" height="20" fill="#000"/>
<rect x="1016" y="288" width="3" height="5" fill="#000"/>
<rect x="1017" y="289" width="1" height="3" fill="#00b000"/>
<rect x="1022" y="288" width="1" height="11" fill="#000"/>
<rect x="1021" y="288" width="3" height="7" fill="#000"/>
<rect x="1022" y="289" width="1" height="5" fill="#b00000"/>
<rect x="1027" y="294" width="1" height="13" fill="#000"/>
<rect x="1026" y="294" width="3" height="1" fill="#000"/>
<rect x="1032" y="293" width="1" height="10" fill="#000"/>
<rect x="1031" y="295" width="3" height="8" fill="#000"/>
<rect x="1032" y="296" width="1" height="6" fill="#b00000"/>
<rect x="1037" y="297" width="1" height="11" fill="#000"/>
<rect x="1036" y="302" width="3" height="2" fill="#000"/>
<rect x="1042" y="302" width="1" height="9" fill="#000"/>
<rect x="1041" y="303" width="3" height="8" fill="#000"/>
<rect x="1042" y="304" width="1" height="6" fill="#b00000"/>
<rect x="1047" y="309" width="1" height="14" fill="#000"/>
<rect x="1046" y="310" width="3" height="9" fill="#000"/>
<rect x="1047" y="311" width="1" height="7" fill="#b00000"/>
<rect x="1052" y="313" width="1" height="13" fill="#000"/>
<rect x="1051" y="316" width="3" height="3" fill="#000"/>
<rect x="1052" y="317" width="1" height="1" fill="#00b000"/>
<rect x="1057" y="268" width="1" height="57" fill="#000"/>
<rect x="1056" y="272" width="3" height="46" fill="#000"/>
<rect x="1057" y="273" width="1" height="44" fill="#00b000"/>
<rect x="1062" y="268" width="1" height="15" fill="#000"/>
<rect x="1061" y="272" width="3" height="8" fill="#000"/>
<rect x="1062" y="273" width="1" height="6" fill="#b00000"/>
<rect x="1067" y="260" width="1" height="20" fill="#000"/>
<rect x="1066" y="271" width="3" height="9" fill="#000"/>
<rect x="1067" y="272" width="1" height="7" fill="#00b000"/>
<rect x="1072" y="265" width="1" height="20" fill="#000"/>
<rect x="1071" y="271" width="3" height="10" fill="#000"/>
<rect x="1072" y="272" width="1" height="8" fill="#b00000"/>
<rect x="1077" y="260" width="1" height="21" fill="#000"/>
<rect x="1076" y="263" width="3" height="18" fill="#000"/>
<rect x="1077" y="264" width="1" height="16" fill="#00b000"/>
<rect x="1082" y="249" width="1" height="21" fill="#000"/>
<rect x="1081" y="249" width="3" height="13" fill="#000"/>
<rect x="1082" y="250" width="1" height="11" fill="#00b000"/>
<rect x="1087" y="225" width="1" height="32" fill="#000"/>
<rect x="1086" y="234" width="3" height="16" fill="#000"/>
<rect x="1087" y="235" width="1" height="14" fill="#00b000"/>
<rect x="1092" y="218" width="1" height="21" fill="#000"/>
<rect x="1091" y="232" width="3" height="3" fill="#000"/>
<rect x="1092" y="233" width="1" height="1" fill="#00b000"/>
<rect x="1097" y="227" width="1" height="13" fill="#000"/>
<rect x="1096" y="232" width="3" height="3" fill="#000"/>
<rect x="1097" y="233" width="1" height="1" fill="#b00000"/>
<rect x="1102" y="224" width="1" height="15" fill="#000"/>
<rect x="1101" y="228" width="3" height="6" fill="#000"/>
<rect x="1102" y="229" width="1" height="4" fill="#00b000"/>
<rect x="1107" y="220" width="1" height="12" fill="#000"/>
<rect x="1106" y="228" width="3" height="2" fill="#000"/>
<rect x="1112" y="228" width="1" height="10" fill="#000"/>
<rect x="1111" y="228" width="3" height="6" fill="#000"/>
<rect x="1112" y="229" width="1" height="4" fill="#b00000"/>
<rect x="1117" y="228" width="1" height="11" fill="#000"/>
<rect x="1116" y="232" width="3" height="2" fill="#000"/>
<rect x="1122" y="225" width="1" height="17" fill="#000"/>
<rect x="1121" y="231" width="3" height="1" fill="#000"/>
<rect x="1127" y="225" width="1" height="15" fill="#000"/>
<rect x="1126" y="231" width="3" height="5" fill="#000"/>
<rect x="1127" y="232" width="1" height="3" fill="#b00000"/>
<rect x="1132" y="209" width="1" height="29" fill="#000"/>
<rect x="1131" y="216" width="3" height="20" fill="#000"/>
<rect x="1132" y="217" width="1" height="18" fill="#00b000"/>
<rect x="1137" y="184" width="1" height="36" fill="#000"/>
<rect x="1136" y="196" width="3" height="21" fill="#000"/>
<rect x="1137" y="197" width="1" height="19" fill="#00b000"/>
<rect x="1142" y="195" width="1" height="20" fill="#000"/>
<rect x="1141" y="196" width="3" height="13" fill="#000"/>
<rect x="1142" y="197" width="1" height="11" fill="#b00000"/>
<rect x="1147" y="196" width="1" height="22" fill="#000"/>
<rect x="1146" y="198" width="3" height="10" fill="#000"/>
<rect x="1147" y="199" width="1" height="8" fill="#00b000"/>
<rect x="1152" y="194" width="1" height="14" fill="#000"/>
<rect x="1151" y="198" width="3" height="10" fill="#000"/>
<rect x="1152" y="199" width="1" height="8" fill="#b00000"/>
<rect x="1157" y="206" width="1" height="13" fill="#000"/>
<rect x="1156" y="207" width="3" height="10" fill="#000"/>
<rect x="1157" y="208" width="1" height="8" fill="#b00000"/>
<rect x="1162" y="212" width="1" height="18" fill="#000"/>
<rect x="1161" y="216" width="3" height="12" fill="#000"/>
<rect x="1162" y="217" width="1" height="10" fill="#b00000"/>
<rect x="1167" y="187" width="1" height="44" fill="#000"/>
<rect x="1166" y="194" width="3" height="35" fill="#000"/>
<rect x="1167" y="195" width="1" height="33" fill="#00b000"/>
<rect x="1172" y="186" width="1" height="23" fill="#000"/>
<rect x="1171" y="194" width="3" height="9" fill="#000"/>
<rect x="1172" y="195" width="1" height="7" fill="#b00000"/>
<rect x="1177" y="197" width="1" height="38" fill="#000"/>
<rect x="1176" y="202" width="3" height="33" fill="#000"/>
<rect x="1177" y="203" width="1" height="31" fill="#b00000"/>
<rect x="1182" y="224" width="1" height="17" fill="#000"/>
<rect x="1181" y="232" width="3" height="3" fill="#000"/>
<rect x="1182" y="233" width="1" height="1" fill="#00b000"/>
<rect x="1187" y="207" width="1" height="29" fill="#000"/>
<rect x="1186" y="209" width="3" height="24" fill="#000"/>
<rect x="1187" y="210" width="1" height="22" fill="#00b000"/>
<rect x="1192" y="203" width="1" height="22" fill="#000"/>
<rect x="1191" y="210" width="3" height="2" fill="#000"/>
<rect x="1197" y="201" width="1" height="28" fill="#000"/>
<rect x="1196" y="211" width="3" height="10" fill="#000"/>
<rect x="1197" y="212" width="1" height="8" fill="#b00000"/>
<rect x="1202" y="220" width="1" height="30" fill="#000"/>
<rect x="1201" y="220" width="3" height="27" fill="#000"/>
<rect x="1202" y="221" width="1" height="25" fill="#b00000"/>
<rect x="1207" y="214" width="1" height="37" fill="#000"/>
<rect x="1206" y="231" width="3" height="14" fill="#000"/>
<rect x="1207" y="232" width="1" height="12" fill="#00b000"/>
<rect x="1212" y="218" width="1" height="14" fill="#000"/>
<rect x="1211" y="224" width="3" height="8" fill="#000"/>
<rect x="1212" y="225" width="1" height="6" fill="#00b000"/>
<rect x="1217" y="168" width="1" height="59" fill="#000"/>
<rect x="1216" y="180" width="3" height="45" fill="#000"/>
<rect x="1217" y="181" width="1" height="43" fill="#00b000"/>
<rect x="1222" y="169" width="1" height="15" fill="#000"/>
<rect x="1221" y="176" width="3" height="4" fill="#000"/>
<rect x="1222" y="177" width="1" height="2" fill="#00b000"/>
<rect x="1227" y="171" width="1" height="34" fill="#000"/>
<rect x="1226" y="176" width="3" height="21" fill="#000"/>
<rect x="1227" y="177" width="1" height="19" fill="#b00000"/>
<rect x="1232" y="183" width="1" height="18" fill="#000"/>
<rect x="1231" y="196" width="3" height="1" fill="#000"/>
<rect x="1237" y="186" width="1" height="12" fill="#000"/>
<rect x="1236" y="188" width="3" height="7" fill="#000"/>
<rect x="1237" y="189" width="1" height="5" fill="#00b000"/>
<rect x="1242" y="177" width="1" height="26" fill="#000"/>
<rect x="1241" y="179" width="3" height="9" fill="#000"/>
<rect x="1242" y="180" width="1" height="7" fill="#00b000"/>
<rect x="1247" y="168" width="1" height="18" fill="#000"/>
<rect x="1246" y="172" width="3" height="8" fill="#000"/>
<rect x="1247" y="173" width="1" height="6" fill="#00b000"/>
<rect x="1252" y="155" width="1" height="19" fill="#000"/>
<rect x="1251" y="168" width="3" height="6" fill="#000"/>
<rect x="1252" y="169" width="1" height="4" fill="#00b000"/>
<rect x="1257" y="168" width="1" height="23" fill="#000"/>
<rect x="1256" y="168" width="3" height="8" fill="#000"/>
<rect x="1257" y="169" width="1" height="6" fill="#b00000"/>
<rect x="1262" y="170" width="1" height="12" fill="#000"/>
<rect x="1261" y="172" width="3" height="6" fill="#000"/>
<rect x="1262" y="173" width="1" height="4" fill="#00b000"/>
<rect x="1267" y="167" width="1" height="10" fill="#000"/>
<rect x="1266" y="170" width="3" height="2" fill="#000"/>
<rect x="1272" y="142" width="1" height="34" fill="#000"/>
<rect x="1271" y="145" width="3" height="27" fill="#000"/>
<rect x="1272" y="146" width="1" height="25" fill="#00b000"/>
<rect x="1277" y="129" width="1" height="18" fill="#000"/>
<rect x="1276" y="146" width="3" height="1" fill="#000"/>
<rect x="1282" y="145" width="1" height="25" fill="#000"/>
<rect x="1281" y="146" width="3" height="15" fill="#000"/>
<rect x="1282" y="147" width="1" height="13" fill="#b00000"/>
<rect x="1287" y="135" width="1" height="31" fill="#000"/>
<rect x="1286" y="147" width="3" height="14" fill="#000"/>
<rect x="1287" y="148" width="1" height="12" fill="#00b000"/>
<rect x="1292" y="120" width="1" height="34" fill="#000"/>
<rect x="1291" y="142" width="3" height="6" fill="#000"/>
<rect x="1292" y="143" width="1" height="4" fill="#00b000"/>
<rect x="1297" y="141" width="1" height="40" fill="#000"/>
<rect x="1296" y="142" width="3" height="21" fill="#000"/>
<rect x="1297" y="143" width="1" height="19" fill="#b00000"/>
<rect x="1302" y="114" width="1" height="49" fill="#000"/>
<rect x="1301" y="118" width="3" height="45" fill="#000"/>
<rect x="1302" y="119" width="1" height="43" fill="#00b000"/>
<rect x="1307" y="106" width="1" height="53" fill="#000"/>
<rect x="1306" y="118" width="3" height="31" fill="#000"/>
<rect x="1307" y="119" width="1" height="29" fill="#b00000"/>
<rect x="1312" y="146" width="1" height="88" fill="#000"/>
<rect x="1311" y="148" width="3" height="73" fill="#000"/>
<rect x="1312" y="149" width="1" height="71" fill="#b00000"/>
<rect x="1317" y="210" width="1" height="21" fill="#000"/>
<rect x="1316" y="212" width="3" height="10" fill="#000"/>
<rect x="1317" y="213" width="1" height="8" fill="#00b000"/>
<rect x="1322" y="169" width="1" height="52" fill="#000"/>
<rect x="1321" y="196" width="3" height="17" fill="#000"/>
<rect x="1322" y="197" width="1" height="15" fill="#00b000"/>
<rect x="1327" y="184" width="1" height="30" fill="#000"/>
<rect x="1326" y="196" width="3" height="15" fill="#000"/>
<rect x="1327" y="197" width="1" height="13" fill="#b00000"/>
<rect x="1332" y="197" width="1" height="22" fill="#000"/>
<rect x="1331" y="210" width="3" height="6" fill="#000"/>
<rect x="1332" y="211" width="1" height="4" fill="#b00000"/>
<rect x="1337" y="201" width="1" height="18" fill="#000"/>
<rect x="1336" y="207" width="3" height="9" fill="#000"/>
<rect x="1337" y="208" width="1" height="7" fill="#00b000"/>
<rect x="1342" y="201" width="1" height="9" fill="#000"/>
<rect x="1341" y="205" width="3" height="3" fill="#000"/>
<rect x="1342" y="206" width="1" height="1" fill="#00b000"/>
<rect x="1347" y="190" width="1" height="19" fill="#000"/>
<rect x="1346" y="205" width="3" height="1" fill="#000"/>
<rect x="1352" y="200" width="1" height="10" fill="#000"/>
<rect x="1351" y="203" width="3" height="2" fill="#000"/>
<rect x="1357" y="170" width="1" height="39" fill="#000"/>
<rect x="1356" y="188" width="3" height="16" fill="#000"/>
<rect x="1357" y="189" width="1" height="14" fill="#00b000"/>
<rect x="1362" y="177" width="1" height="36" fill="#000"/>
<rect x="1361" y="180" width="3" height="29" fill="#000"/>
<rect x="1362" y="181" width="1" height="27" fill="#b00000"/>
<rect x="1367" y="191" width="1" height="20" fill="#000"/>
<rect x="1366" y="191" width="3" height="17" fill="#000"/>
<rect x="1367" y="192" width="1" height="15" fill="#00b000"/>
<rect x="1372" y="166" width="1" height="30" fill="#000"/>
<rect x="1371" y="191" width="3" height="3" fill="#000"/>
<rect x="1372" y="192" width="1" height="1" fill="#b00000"/>
<rect x="1377" y="152" width="1" height="44" fill="#000"/>
<rect x="1376" y="168" width="3" height="26" fill="#000"/>
<rect x="1377" y="169" width="1" height="24" fill="#00b000"/>
<rect x="1382" y="165" width="1" height="27" fill="#000"/>
<rect x="1381" y="168" width="3" height="15" fill="#000"/>
<rect x="1382" y="169" width="1" height="13" fill="#b00000"/>
<rect x="1387" y="173" width="1" height="20" fill="#000"/>
<rect x="1386" y="182" width="3" height="6" fill="#000"/>
<rect x="1387" y="183" width="1" height="4" fill="#b00000"/>
<rect x="1392" y="182" width="1" height="11" fill="#000"/>
<rect x="1391" y="186" width="3" height="2" fill="#000"/>
<rect x="1397" y="176" width="1" height="14" fill="#000"/>
<rect x="1396" y="186" width="3" height="1" fill="#000"/>
<rect x="1402" y="184" width="1" height="16" fill="#000"/>
<rect x="1401" y="186" width="3" height="12" fill="#000"/>
<rect x="1402" y="187" width="1" height="10" fill="#b00000"/>
<rect x="1407" y="185" width="1" height="30" fill="#000"/>
<rect x="1406" y="194" width="3" height="4" fill="#000"/>
<rect x="1407" y="195" width="1" height="2" fill="#00b000"/>
<rect x="1412" y="173" width="1" height="30" fill="#000"/>
<rect x="1411" y="186" width="3" height="9" fill="#000"/>
<rect x="1412" y="187" width="1" height="7" fill="#00b000"/>
<rect x="1417" y="160" width="1" height="31" fill="#000"/>
<rect x="1416" y="160" width="3" height="26" fill="#000"/>
<rect x="1417" y="161" width="1" height="24" fill="#00b000"/>
<rect x="1422" y="138" width="1" height="27" fill="#000"/>
<rect x="1421" y="145" width="3" height="17" fill="#000"/>
<rect x="1422" y="146" width="1" height="15" fill="#00b000"/>
<rect x="1427" y="144" width="1" height="33" fill="#000"/>
<rect x="1426" y="146" width="3" height="28" fill="#000"/>
<rect x="1427" y="147" width="1" height="26" fill="#b00000"/>
<rect x="1432" y="165" width="1" height="21" fill="#000"/>
<rect x="1431" y="173" width="3" height="6" fill="#000"/>
<rect x="1432" y="174" width="1" height="4" fill="#b00000"/>
<rect x="1437" y="156" width="1" height="31" fill="#000"/>
<rect x="1436" y="162" width="3" height="17" fill="#000"/>
<rect x="1437" y="163" width="1" height="15" fill="#00b000"/>
<rect x="1442" y="155" width="1" height="18" fill="#000"/>
<rect x="1441" y="162" width="3" height="3" fill="#000"/>
<rect x="1442" y="163" width="1" height="1" fill="#b00000"/>
<rect x="1447" y="155" width="1" height="21" fill="#000"/>
<rect x="1446" y="165" width="3" height="8" fill="#000"/>
<rect x="1447" y="166" width="1" height="6" fill="#b00000"/>
<rect x="1452" y="134" width="1" height="46" fill="#000"/>
<rect x="1451" y="134" width="3" height="39" fill="#000"/>
<rect x="1452" y="135" width="1" height="37" fill="#00b000"/>
<rect x="1457" y="124" width="1" height="15" fill="#000"/>
<rect x="1456" y="132" width="3" height="3" fill="#000"/>
<rect x="1457" y="133" width="1" height="1" fill="#00b000"/>
<rect x="1462" y="129" width="1" height="19" fill="#000"/>
<rect x="1461" y="132" width="3" height="13" fill="#000"/>
<rect x="1462" y="133" width="1" height="11" fill="#b00000"/>
<rect x="1467" y="143" width="1" height="20" fill="#000"/>
<rect x="1466" y="144" width="3" height="15" fill="#000"/>
<rect x="1467" y="145" width="1" height="13" fill="#b00000"/>
<rect x="1472" y="150" width="1" height="16" fill="#000"/>
<rect x="1471" y="152" width="3" height="7" fill="#000"/>
<rect x="1472" y="153" width="1" height="5" fill="#00b000"/>
<rect x="1477" y="133" width="1" height="22" fill="#000"/>
<rect x="1476" y="138" width="3" height="15" fill="#000"/>
<rect x="1477" y="139" width="1" height="13" fill="#00b000"/>
<rect x="1482" y="132" width="1" height="16" fill="#000"/>
<rect x="1481" y="134" width="3" height="4" fill="#000"/>
<rect x="1482" y="135" width="1" height="2" fill="#00b000"/>
<rect x="1487" y="131" width="1" height="12" fill="#000"/>
<rect x="1486" y="133" width="3" height="2" fill="#000"/>
<rect x="1492" y="129" width="1" height="19" fill="#000"/>
<rect x="1491" y="134" width="3" height="12" fill="#000"/>
<rect x="1492" y="135" width="1" height="10" fill="#b00000"/>
<rect x="1497" y="142" width="1" height="13" fill="#000"/>
<rect x="1496" y="144" width="3" height="2" fill="#000"/>
<rect x="1502" y="144" width="1" height="17" fill="#000"/>
<rect x="1501" y="145" width="3" height="10" fill="#000"/>
<rect x="1502" y="146" width="1" height="8" fill="#b00000"/>
<rect x="1507" y="147" width="1" height="31" fill="#000"/>
<rect x="1506" y="154" width="3" height="19" fill="#000"/>
<rect x="1507" y="155" width="1" height="17" fill="#b00000"/>
<rect x="1512" y="161" width="1" height="12" fill="#000"/>
<rect x="1511" y="166" width="3" height="7" fill="#000"/>
<rect x="1512" y="167" width="1" height="5" fill="#00b000"/>
<rect x="1517" y="157" width="1" height="10" fill="#000"/>
<rect x="1516" y="167" width="3" height="1" fill="#000"/>
<rect x="1522" y="157" width="1" height="13" fill="#000"/>
<rect x="1521" y="164" width="3" height="3" fill="#000"/>
<rect x="1522" y="165" width="1" height="1" fill="#00b000"/>
<rect x="1527" y="160" width="1" height="22" fill="#000"/>
<rect x="1526" y="163" width="3" height="13" fill="#000"/>
<rect x="1527" y="164" width="1" height="11" fill="#b00000"/>
<rect x="1532" y="173" width="1" height="26" fill="#000"/>
<rect x="1531" y="175" width="3" height="22" fill="#000"/>
<rect x="1532" y="176" width="1" height="20" fill="#b00000"/>
<rect x="1537" y="186" width="1" height="43" fill="#000"/>
<rect x="1536" y="196" width="3" height="6" fill="#000"/>
<rect x="1537" y="197" width="1" height="4" fill="#b00000"/>
<rect x="1542" y="200" width="1" height="23" fill="#000"/>
<rect x="1541" y="201" width="3" height="9" fill="#000"/>
<rect x="1542" y="202" width="1" height="7" fill="#b00000"/>
<rect x="1547" y="200" width="1" height="13" fill="#000"/>
<rect x="1546" y="201" width="3" height="9" fill="#000"/>
<rect x="1547" y="202" width="1" height="7" fill="#00b000"/>
<rect x="1552" y="185" width="1" height="17" fill="#000"/>
<rect x="1551" y="187" width="3" height="15" fill="#000"/>
<rect x="1552" y="188" width="1" height="13" fill="#00b000"/>
<rect x="1553" y="187" width="28" height="1" fill="#000"/>
</g>
<polygon points="1546.5,1 1557.5,1 1552,6.5" fill="#000"/>
<g shape-rendering="crispEdges">
<line x1="0" y1="595.5" x2="1581" y2="595.5" stroke="#000" stroke-width="1" stroke-dasharray="6,4"/>
<line x1="0" y1="638.5" x2="1581" y2="638.5" stroke="#000" stroke-width="1" stroke-dasharray="6,4"/>
<line x1="0" y1="683.5" x2="1581" y2="683.5" stroke="#000" stroke-width="1" stroke-dasharray="6,4"/>
<line x1="0" y1="729.5" x2="1581" y2="729.5" stroke="#000" stroke-width="1" stroke-dasharray="6,4"/>
</g>
<polyline points="-2.5,602.5 2.5,609.6 7.5,605.8 12.5,604.7 17.5,604.7 22.5,603.2 27.5,601.4 32.5,603.5 37.5,603.8 42.5,596.9 47.5,602.7 52.5,600.2 57.5,609.5 62.5,609.3 67.5,607.7 72.5,605.1 77.5,605.1 82.5,604.1 87.5,604.8 92.5,613.7 97.5,625.0 102.5,625.2 107.5,606.1 112.5,615.8 117.5,607.5 122.5,624.3 127.5,628.4 132.5,630.6 137.5,631.4 142.5,631.4 147.5,633.0 152.5,629.3 157.5,630.2 162.5,621.9 167.5,626.0 172.5,619.2 177.5,630.2 182.5,629.1 187.5,632.3 192.5,631.3 197.5,629.8 202.5,631.3 207.5,630.9 212.5,639.6 217.5,640.9 222.5,643.8 227.5,645.3 232.5,645.7 237.5,653.1 242.5,648.6 247.5,643.2 252.5,643.5 257.5,645.2 262.5,647.4 267.5,637.6 272.5,637.5 277.5,639.4 282.5,639.4 287.5,637.1 292.5,634.0 297.5,628.2 302.5,628.4 307.5,633.7 312.5,634.7 317.5,637.6 322.5,630.6 327.5,630.4 332.5,627.0 337.5,632.3 342.5,635.1 347.5,628.2 352.5,629.4 357.5,634.4 362.5,624.3 367.5,624.3 372.5,617.0 377.5,614.1 382.5,612.2 387.5,611.5 392.5,608.6 397.5,614.2 402.5,606.7 407.5,609.6 412.5,612.7 417.5,608.4 422.5,603.1 427.5,603.6 432.5,604.0 437.5,603.5 442.5,605.2 447.5,611.5 452.5,611.6 457.5,615.3 462.5,617.9 467.5,617.7 472.5,621.1 477.5,630.8 482.5,629.4 487.5,629.2 492.5,619.1 497.5,619.2 502.5,612.7 507.5,614.6 512.5,612.9 517.5,614.9 522.5,610.5 527.5,615.0 532.5,608.7 537.5,604.7 542.5,608.2 547.5,612.5 552.5,612.4 557.5,612.4 562.5,612.9 567.5,613.3 572.5,611.2 577.5,607.9 582.5,617.5 587.5,611.5 592.5,612.0 597.5,606.7 602.5,604.6 607.5,623.4 612.5,622.0 617.5,629.0 622.5,632.3 627.5,632.0 632.5,634.4 637.5,634.1 642.5,626.1 647.5,628.2 652.5,628.0 657.5,615.1 662.5,602.7 667.5,604.7 672.5,609.8 677.5,606.7 682.5,611.4 687.5,606.8 692.5,604.3 697.5,584.6 702.5,593.5 707.5,591.6 712.5,591.3 717.5,595.2 722.5,594.7 727.5,592.2 732.5,595.3 737.5,600.4 742.5,599.9 747.5,598.6 752.5,601.9 757.5,597.1 762.5,600.9 767.5,601.9 772.5,602.8 777.5,601.8 782.5,602.8 787.5,600.3 792.5,600.3 797.5,600.3 802.5,599.6 807.5,598.6 812.5,589.6 817.5,604.8 822.5,604.7 827.5,609.9 832.5,611.8 837.5,618.1 842.5,616.6 847.5,618.1 852.5,617.8 857.5,615.6 862.5,614.0 867.5,612.9 872.5,611.8 877.5,639.4 882.5,641.2 887.5,632.2 892.5,637.5 897.5,638.8 902.5,631.4 907.5,630.6 912.5,631.3 917.5,629.2 922.5,631.3 927.5,623.3 932.5,621.6 937.5,619.5 942.5,616.8 947.5,622.1 952.5,619.5 957.5,616.6 962.5,620.3 967.5,615.6 972.5,613.2 977.5,611.7 982.5,608.9 987.5,612.6 992.5,612.8 997.5,613.0 1002.5,610.1 1007.5,612.1 1012.5,611.8 1017.5,609.3 1022.5,613.6 1027.5,613.5 1032.5,618.8 1037.5,619.0 1042.5,623.8 1047.5,628.2 1052.5,626.2 1057.5,603.1 1062.5,607.4 1067.5,604.2 1072.5,609.5 1077.5,603.2 1082.5,599.0 1087.5,595.1 1092.5,594.6 1097.5,596.1 1102.5,594.3 1107.5,594.8 1112.5,598.0 1117.5,597.8 1122.5,597.2 1127.5,600.6 1132.5,593.8 1137.5,588.6 1142.5,596.9 1147.5,594.0 1152.5,599.8 1157.5,604.9 1162.5,610.6 1167.5,600.1 1172.5,604.1 1177.5,616.7 1182.5,615.9 1187.5,608.8 1192.5,609.5 1197.5,613.2 1202.5,621.9 1207.5,616.7 1212.5,614.5 1217.5,603.4 1222.5,602.5 1227.5,609.6 1232.5,609.2 1237.5,607.4 1242.5,605.1 1247.5,603.4 1252.5,602.4 1257.5,605.9 1262.5,604.7 1267.5,604.3 1272.5,597.6 1277.5,598.0 1282.5,605.0 1287.5,601.4 1292.5,600.0 1297.5,609.2 1302.5,598.4 1307.5,609.1 1312.5,626.0 1317.5,623.9 1322.5,620.0 1327.5,623.0 1332.5,624.0 1337.5,621.8 1342.5,621.2 1347.5,621.2 1352.5,620.8 1357.5,615.9 1362.5,621.7 1367.5,616.5 1372.5,617.3 1377.5,610.3 1382.5,614.7 1387.5,616.1 1392.5,616.0 1397.5,615.8 1402.5,619.6 1407.5,618.4 1412.5,615.4 1417.5,607.2 1422.5,603.3 1427.5,613.7 1432.5,615.3 1437.5,610.6 1442.5,611.4 1447.5,614.3 1452.5,604.0 1457.5,603.6 1462.5,608.2 1467.5,613.1 1472.5,611.2 1477.5,607.4 1482.5,606.3 1487.5,606.3 1492.5,611.1 1497.5,610.8 1502.5,614.9 1507.5,621.5 1512.5,618.9 1517.5,619.1 1522.5,618.1 1527.5,622.7 1532.5,629.7 1537.5,631.2 1542.5,633.5 1547.5,629.2 1552.5,622.5" fill="none" stroke="#0000ff" stroke-width="1" shape-rendering="crispEdges"/>
<rect x="1553" y="622" width="28" height="1" fill="#000" shape-rendering="crispEdges"/>
<polyline points="-2.5,693.0 2.5,698.3 7.5,706.0 12.5,708.5 17.5,703.4 22.5,699.0 27.5,696.5 32.5,699.0 37.5,703.3 42.5,697.0 47.5,693.5 52.5,684.9 57.5,703.8 62.5,713.5 67.5,725.4 72.5,718.0 77.5,711.0 82.5,700.1 87.5,700.0 92.5,708.8 97.5,723.9 102.5,733.5 107.5,714.4 112.5,705.3 117.5,685.2 122.5,702.0 127.5,713.4 132.5,737.0 137.5,741.1 142.5,740.1 147.5,738.8 152.5,730.4 157.5,719.8 162.5,699.7 167.5,698.4 172.5,687.2 177.5,704.4 182.5,710.6 187.5,732.8 192.5,734.0 197.5,735.0 202.5,732.3 207.5,726.3 212.5,729.1 217.5,733.8 222.5,735.3 227.5,732.3 232.5,727.4 237.5,733.2 242.5,733.0 247.5,727.6 252.5,718.1 257.5,715.3 262.5,721.0 267.5,714.7 272.5,705.2 277.5,698.6 282.5,702.6 287.5,703.1 292.5,695.5 297.5,684.0 302.5,679.9 307.5,690.9 312.5,711.0 317.5,732.3 322.5,730.6 327.5,723.8 332.5,700.5 337.5,702.3 342.5,703.4 347.5,711.5 352.5,705.2 357.5,707.6 362.5,702.9 367.5,699.8 372.5,685.8 377.5,683.1 382.5,676.0 387.5,675.6 392.5,673.8 397.5,686.9 402.5,685.4 407.5,690.9 412.5,688.9 417.5,692.4 422.5,686.7 427.5,677.7 432.5,676.4 437.5,678.7 442.5,682.5 447.5,699.8 452.5,706.8 457.5,713.6 462.5,708.9 467.5,714.3 472.5,719.4 477.5,724.1 482.5,725.2 487.5,722.5 492.5,707.8 497.5,695.6 502.5,682.3 507.5,681.9 512.5,681.5 517.5,689.2 522.5,687.8 527.5,697.7 532.5,693.9 537.5,691.4 542.5,685.9 547.5,692.8 552.5,704.3 557.5,712.4 562.5,715.9 567.5,716.2 572.5,710.8 577.5,700.0 582.5,704.1 587.5,702.4 592.5,707.8 597.5,699.6 602.5,697.1 607.5,704.9 612.5,713.7 617.5,728.7 622.5,730.2 627.5,732.6 632.5,732.6 637.5,734.0 642.5,730.2 647.5,728.2 652.5,724.9 657.5,716.8 662.5,699.3 667.5,683.9 672.5,682.0 677.5,684.7 682.5,695.1 687.5,698.3 692.5,696.2 697.5,684.0 702.5,680.0 707.5,680.6 712.5,682.1 717.5,681.8 722.5,692.4 727.5,691.7 732.5,695.1 737.5,701.4 742.5,716.8 747.5,719.9 752.5,720.4 757.5,702.1 762.5,697.5 767.5,686.4 772.5,699.0 777.5,700.1 782.5,705.4 787.5,703.7 792.5,705.1 797.5,700.5 802.5,699.2 807.5,696.3 812.5,690.8 817.5,698.9 822.5,710.0 827.5,728.0 832.5,734.8 837.5,737.9 842.5,733.7 847.5,729.9 852.5,726.1 857.5,717.2 862.5,702.3 867.5,687.0 872.5,683.4 877.5,703.2 882.5,724.1 887.5,736.9 892.5,736.4 897.5,736.9 902.5,728.2 907.5,712.6 912.5,698.7 917.5,691.5 922.5,693.6 927.5,686.9 932.5,690.3 937.5,682.2 942.5,681.0 947.5,685.5 952.5,691.3 957.5,696.3 962.5,700.1 967.5,697.5 972.5,691.9 977.5,682.4 982.5,677.2 987.5,681.7 992.5,686.5 997.5,698.5 1002.5,697.1 1007.5,694.5 1012.5,691.2 1017.5,691.2 1022.5,695.5 1027.5,697.1 1032.5,712.3 1037.5,720.1 1042.5,733.9 1047.5,735.7 1052.5,733.9 1057.5,710.1 1062.5,693.1 1067.5,679.4 1072.5,685.7 1077.5,681.7 1082.5,677.4 1087.5,673.2 1092.5,677.4 1097.5,684.2 1102.5,685.3 1107.5,687.0 1112.5,698.5 1117.5,710.3 1122.5,716.4 1127.5,716.5 1132.5,705.3 1137.5,697.5 1142.5,690.0 1147.5,690.9 1152.5,696.7 1157.5,709.1 1162.5,726.7 1167.5,719.5 1172.5,705.6 1177.5,707.1 1182.5,724.7 1187.5,726.0 1192.5,712.1 1197.5,704.2 1202.5,717.5 1207.5,721.3 1212.5,719.5 1217.5,699.3 1222.5,686.5 1227.5,683.4 1232.5,690.7 1237.5,696.9 1242.5,695.3 1247.5,687.1 1252.5,685.5 1257.5,689.7 1262.5,696.1 1267.5,700.3 1272.5,690.4 1277.5,688.2 1282.5,692.1 1287.5,700.3 1292.5,703.5 1297.5,706.1 1302.5,697.8 1307.5,702.1 1312.5,707.1 1317.5,726.8 1322.5,730.4 1327.5,728.4 1332.5,727.4 1337.5,725.2 1342.5,722.2 1347.5,717.5 1352.5,713.9 1357.5,705.5 1362.5,713.0 1367.5,713.3 1372.5,718.9 1377.5,702.6 1382.5,702.9 1387.5,703.2 1392.5,716.8 1397.5,724.0 1402.5,732.5 1407.5,725.1 1412.5,713.0 1417.5,689.0 1422.5,678.4 1427.5,682.2 1432.5,698.3 1437.5,707.7 1442.5,709.9 1447.5,710.9 1452.5,699.2 1457.5,688.6 1462.5,680.9 1467.5,696.7 1472.5,706.3 1477.5,705.5 1482.5,693.1 1487.5,682.4 1492.5,685.2 1497.5,697.5 1502.5,716.1 1507.5,727.5 1512.5,731.2 1517.5,728.1 1522.5,720.5 1527.5,722.1 1532.5,728.9 1537.5,729.5 1542.5,727.1 1547.5,718.1 1552.5,708.6" fill="none" stroke="#0000ff" stroke-width="1" shape-rendering="crispEdges"/>
<polyline points="-2.5,691.0 2.5,693.8 7.5,699.6 12.5,705.2 17.5,706.7 22.5,703.4 27.5,699.6 32.5,697.0 37.5,698.3 42.5,699.1 47.5,698.0 52.5,691.8 57.5,694.1 62.5,700.7 67.5,714.2 72.5,719.0 77.5,718.2 82.5,709.7 87.5,703.7 92.5,703.0 97.5,710.9 102.5,722.1 107.5,723.9 112.5,717.7 117.5,701.6 122.5,697.5 127.5,700.2 132.5,717.5 137.5,730.5 142.5,739.4 147.5,740.0 152.5,736.4 157.5,729.7 162.5,716.7 167.5,706.0 172.5,695.1 177.5,696.7 182.5,700.8 187.5,716.0 192.5,725.8 197.5,734.0 202.5,733.8 207.5,731.2 212.5,729.2 217.5,729.7 222.5,732.7 227.5,733.8 232.5,731.7 237.5,731.0 242.5,731.2 247.5,731.3 252.5,726.2 257.5,720.3 262.5,718.2 267.5,717.0 272.5,713.6 277.5,706.2 282.5,702.2 287.5,701.5 292.5,700.4 297.5,694.2 302.5,686.5 307.5,684.9 312.5,693.9 317.5,711.4 322.5,724.6 327.5,728.9 332.5,718.3 337.5,708.9 342.5,702.1 347.5,705.8 352.5,706.7 357.5,708.1 362.5,705.2 367.5,703.4 372.5,696.2 377.5,689.6 382.5,681.6 387.5,678.2 392.5,675.1 397.5,678.8 402.5,682.0 407.5,687.7 412.5,688.4 417.5,690.7 422.5,689.3 427.5,685.6 432.5,680.3 437.5,677.6 442.5,679.2 447.5,687.0 452.5,696.4 457.5,706.7 462.5,709.8 467.5,712.3 472.5,714.2 477.5,719.3 482.5,722.9 487.5,724.0 492.5,718.5 497.5,708.6 502.5,695.2 507.5,686.6 512.5,681.9 517.5,684.2 522.5,686.1 527.5,691.6 532.5,693.1 537.5,694.4 542.5,690.4 547.5,690.1 552.5,694.4 557.5,703.2 562.5,710.9 567.5,714.9 572.5,714.3 577.5,709.0 582.5,705.0 587.5,702.2 592.5,704.8 597.5,703.3 602.5,701.5 607.5,700.5 612.5,705.2 617.5,715.7 622.5,724.2 627.5,730.5 632.5,731.8 637.5,733.1 642.5,732.3 647.5,730.8 652.5,727.7 657.5,723.3 662.5,713.6 667.5,700.0 672.5,688.4 677.5,683.5 682.5,687.3 687.5,692.7 692.5,696.5 697.5,692.8 702.5,686.8 707.5,681.6 712.5,680.9 717.5,681.5 722.5,685.4 727.5,688.6 732.5,693.1 737.5,696.1 742.5,704.5 747.5,712.7 752.5,719.0 757.5,714.1 762.5,706.7 767.5,695.3 772.5,694.3 777.5,695.2 782.5,701.5 787.5,703.1 792.5,704.7 797.5,703.1 802.5,701.6 807.5,698.6 812.5,695.4 817.5,695.4 822.5,699.9 827.5,712.3 832.5,724.3 837.5,733.5 842.5,735.5 847.5,733.8 852.5,729.9 857.5,724.4 862.5,715.2 867.5,702.2 872.5,690.9 877.5,691.2 882.5,703.6 887.5,721.4 892.5,732.4 897.5,736.7 902.5,733.8 907.5,725.9 912.5,713.2 917.5,700.9 922.5,694.6 927.5,690.6 932.5,690.2 937.5,686.5 942.5,684.5 947.5,682.9 952.5,685.9 957.5,691.0 962.5,695.9 967.5,698.0 972.5,696.5 977.5,690.6 982.5,683.8 987.5,680.4 992.5,681.8 997.5,688.9 1002.5,694.0 1007.5,696.7 1012.5,694.3 1017.5,692.3 1022.5,692.6 1027.5,694.6 1032.5,701.6 1037.5,709.8 1042.5,722.1 1047.5,729.9 1052.5,734.5 1057.5,726.5 1062.5,712.4 1067.5,694.2 1072.5,686.1 1077.5,682.2 1082.5,681.6 1087.5,677.4 1092.5,676.0 1097.5,678.2 1102.5,682.3 1107.5,685.5 1112.5,690.3 1117.5,698.6 1122.5,708.4 1127.5,714.4 1132.5,712.7 1137.5,706.4 1142.5,697.6 1147.5,692.8 1152.5,692.5 1157.5,698.9 1162.5,710.8 1167.5,718.4 1172.5,717.3 1177.5,710.7 1182.5,712.5 1187.5,719.3 1192.5,720.9 1197.5,714.1 1202.5,711.3 1207.5,714.3 1212.5,719.4 1217.5,713.4 1222.5,701.8 1227.5,689.8 1232.5,686.9 1237.5,690.3 1242.5,694.3 1247.5,693.1 1252.5,689.3 1257.5,687.4 1262.5,690.4 1267.5,695.3 1272.5,695.6 1277.5,693.0 1282.5,690.2 1287.5,693.5 1292.5,698.6 1297.5,703.3 1302.5,702.4 1307.5,702.0 1312.5,702.3 1317.5,712.0 1322.5,721.4 1327.5,728.5 1332.5,728.7 1337.5,727.0 1342.5,725.0 1347.5,721.6 1352.5,717.9 1357.5,712.3 1362.5,710.8 1367.5,710.6 1372.5,715.1 1377.5,711.6 1382.5,708.1 1387.5,702.9 1392.5,707.6 1397.5,714.7 1402.5,724.5 1407.5,727.2 1412.5,723.5 1417.5,709.0 1422.5,693.4 1427.5,683.2 1432.5,686.3 1437.5,696.1 1442.5,705.3 1447.5,709.5 1452.5,706.7 1457.5,699.6 1462.5,689.6 1467.5,688.7 1472.5,694.6 1477.5,702.8 1482.5,701.6 1487.5,693.7 1492.5,686.9 1497.5,688.4 1502.5,699.6 1507.5,713.7 1512.5,724.9 1517.5,729.0 1522.5,726.6 1527.5,723.6 1532.5,723.9 1537.5,726.9 1542.5,728.5 1547.5,724.9 1552.5,717.9" fill="none" stroke="#ff0000" stroke-width="1" shape-rendering="crispEdges"/>
<rect x="1553" y="708" width="28" height="1" fill="#000" shape-rendering="crispEdges"/>
<rect x="1553" y="717" width="28" height="1" fill="#000" shape-rendering="crispEdges"/>
<g shape-rendering="crispEdges">
<rect x="1" y="784" width="3" height="49" fill="#0000ff"/>
<rect x="6" y="790" width="3" height="43" fill="#0000ff"/>
<rect x="11" y="798" width="3" height="35" fill="#0000ff"/>
<rect x="16" y="816" width="3" height="17" fill="#0000ff"/>
<rect x="21" y="820" width="3" height="13" fill="#0000ff"/>
<rect x="26" y="820" width="3" height="13" fill="#0000ff"/>
<rect x="31" y="816" width="3" height="17" fill="#0000ff"/>
<rect x="36" y="823" width="3" height="10" fill="#0000ff"/>
<rect x="41" y="819" width="3" height="14" fill="#0000ff"/>
<rect x="46" y="825" width="3" height="8" fill="#0000ff"/>
<rect x="51" y="822" width="3" height="11" fill="#0000ff"/>
<rect x="56" y="816" width="3" height="17" fill="#0000ff"/>
<rect x="61" y="816" width="3" height="17" fill="#0000ff"/>
<rect x="66" y="825" width="3" height="8" fill="#0000ff"/>
<rect x="71" y="825" width="3" height="8" fill="#0000ff"/>
<rect x="76" y="826" width="3" height="7" fill="#0000ff"/>
<rect x="81" y="822" width="3" height="11" fill="#0000ff"/>
<rect x="86" y="821" width="3" height="12" fill="#0000ff"/>
<rect x="91" y="815" width="3" height="18" fill="#0000ff"/>
<rect x="96" y="802" width="3" height="31" fill="#0000ff"/>
<rect x="101" y="820" width="3" height="13" fill="#0000ff"/>
<rect x="106" y="813" width="3" height="20" fill="#0000ff"/>
<rect x="111" y="813" width="3" height="20" fill="#0000ff"/>
<rect x="116" y="761" width="3" height="72" fill="#0000ff"/>
<rect x="121" y="761" width="3" height="72" fill="#0000ff"/>
<rect x="126" y="773" width="3" height="60" fill="#0000ff"/>
<rect x="131" y="804" width="3" height="29" fill="#0000ff"/>
<rect x="136" y="816" width="3" height="17" fill="#0000ff"/>
<rect x="141" y="820" width="3" height="13" fill="#0000ff"/>
<rect x="146" y="817" width="3" height="16" fill="#0000ff"/>
<rect x="151" y="819" width="3" height="14" fill="#0000ff"/>
<rect x="156" y="824" width="3" height="9" fill="#0000ff"/>
<rect x="161" y="828" width="3" height="5" fill="#0000ff"/>
<rect x="166" y="824" width="3" height="9" fill="#0000ff"/>
<rect x="171" y="822" width="3" height="11" fill="#0000ff"/>
<rect x="176" y="811" width="3" height="22" fill="#0000ff"/>
<rect x="181" y="814" width="3" height="19" fill="#0000ff"/>
<rect x="186" y="822" width="3" height="11" fill="#0000ff"/>
<rect x="191" y="818" width="3" height="15" fill="#0000ff"/>
<rect x="196" y="821" width="3" height="12" fill="#0000ff"/>
<rect x="201" y="819" width="3" height="14" fill="#0000ff"/>
<rect x="206" y="813" width="3" height="20" fill="#0000ff"/>
<rect x="211" y="798" width="3" height="35" fill="#0000ff"/>
<rect x="216" y="807" width="3" height="26" fill="#0000ff"/>
<rect x="221" y="805" width="3" height="28" fill="#0000ff"/>
<rect x="226" y="803" width="3" height="30" fill="#0000ff"/>
<rect x="231" y="805" width="3" height="28" fill="#0000ff"/>
<rect x="236" y="782" width="3" height="51" fill="#0000ff"/>
<rect x="241" y="794" width="3" height="39" fill="#0000ff"/>
<rect x="246" y="805" width="3" height="28" fill="#0000ff"/>
<rect x="251" y="812" width="3" height="21" fill="#0000ff"/>
<rect x="256" y="817" width="3" height="16" fill="#0000ff"/>
<rect x="261" y="809" width="3" height="24" fill="#0000ff"/>
<rect x="266" y="814" width="3" height="19" fill="#0000ff"/>
<rect x="271" y="821" width="3" height="12" fill="#0000ff"/>
<rect x="276" y="814" width="3" height="19" fill="#0000ff"/>
<rect x="281" y="827" width="3" height="6" fill="#0000ff"/>
<rect x="286" y="823" width="3" height="10" fill="#0000ff"/>
<rect x="291" y="817" width="3" height="16" fill="#0000ff"/>
<rect x="296" y="819" width="3" height="14" fill="#0000ff"/>
<rect x="301" y="824" width="3" height="9" fill="#0000ff"/>
<rect x="306" y="822" width="3" height="11" fill="#0000ff"/>
<rect x="311" y="820" width="3" height="13" fill="#0000ff"/>
<rect x="316" y="821" width="3" height="12" fill="#0000ff"/>
<rect x="321" y="822" width="3" height="11" fill="#0000ff"/>
<rect x="326" y="807" width="3" height="26" fill="#0000ff"/>
<rect x="331" y="795" width="3" height="38" fill="#0000ff"/>
<rect x="336" y="788" width="3" height="45" fill="#0000ff"/>
<rect x="341" y="795" width="3" height="38" fill="#0000ff"/>
<rect x="346" y="810" width="3" height="23" fill="#0000ff"/>
<rect x="351" y="808" width="3" height="25" fill="#0000ff"/>
<rect x="356" y="798" width="3" height="35" fill="#0000ff"/>
<rect x="361" y="799" width="3" height="34" fill="#0000ff"/>
<rect x="366" y="792" width="3" height="41" fill="#0000ff"/>
<rect x="371" y="801" width="3" height="32" fill="#0000ff"/>
<rect x="376" y="810" width="3" height="23" fill="#0000ff"/>
<rect x="381" y="817" width="3" height="16" fill="#0000ff"/>
<rect x="386" y="816" width="3" height="17" fill="#0000ff"/>
<rect x="391" y="820" width="3" height="13" fill="#0000ff"/>
<rect x="396" y="824" width="3" height="9" fill="#0000ff"/>
<rect x="401" y="824" width="3" height="9" fill="#0000ff"/>
<rect x="406" y="820" width="3" height="13" fill="#0000ff"/>
<rect x="411" y="819" width="3" height="14" fill="#0000ff"/>
<rect x="416" y="805" width="3" height="28" fill="#0000ff"/>
<rect x="421" y="814" width="3" height="19" fill="#0000ff"/>
<rect x="426" y="820" width="3" height="13" fill="#0000ff"/>
<rect x="431" y="820" width="3" height="13" fill="#0000ff"/>
<rect x="436" y="821" width="3" height="12" fill="#0000ff"/>
<rect x="441" y="821" width="3" height="12" fill="#0000ff"/>
<rect x="446" y="809" width="3" height="24" fill="#0000ff"/>
<rect x="451" y="800" width="3" height="33" fill="#0000ff"/>
<rect x="456" y="804" width="3" height="29" fill="#0000ff"/>
<rect x="461" y="810" width="3" height="23" fill="#0000ff"/>
<rect x="466" y="811" width="3" height="22" fill="#0000ff"/>
<rect x="471" y="809" width="3" height="24" fill="#0000ff"/>
<rect x="476" y="785" width="3" height="48" fill="#0000ff"/>
<rect x="481" y="796" width="3" height="37" fill="#0000ff"/>
<rect x="486" y="788" width="3" height="45" fill="#0000ff"/>
<rect x="491" y="801" width="3" height="32" fill="#0000ff"/>
<rect x="496" y="815" width="3" height="18" fill="#0000ff"/>
<rect x="501" y="812" width="3" height="21" fill="#0000ff"/>
<rect x="506" y="820" width="3" height="13" fill="#0000ff"/>
<rect x="511" y="821" width="3" height="12" fill="#0000ff"/>
<rect x="516" y="818" width="3" height="15" fill="#0000ff"/>
<rect x="521" y="827" width="3" height="6" fill="#0000ff"/>
<rect x="526" y="819" width="3" height="14" fill="#0000ff"/>
<rect x="531" y="793" width="3" height="40" fill="#0000ff"/>
<rect x="536" y="808" width="3" height="25" fill="#0000ff"/>
<rect x="541" y="817" width="3" height="16" fill="#0000ff"/>
<rect x="546" y="821" width="3" height="12" fill="#0000ff"/>
<rect x="551" y="823" width="3" height="10" fill="#0000ff"/>
<rect x="556" y="822" width="3" height="11" fill="#0000ff"/>
<rect x="561" y="818" width="3" height="15" fill="#0000ff"/>
<rect x="566" y="805" width="3" height="28" fill="#0000ff"/>
<rect x="571" y="795" width="3" height="38" fill="#0000ff"/>
<rect x="576" y="804" width="3" height="29" fill="#0000ff"/>
<rect x="581" y="808" width="3" height="25" fill="#0000ff"/>
<rect x="586" y="808" width="3" height="25" fill="#0000ff"/>
<rect x="591" y="808" width="3" height="25" fill="#0000ff"/>
<rect x="596" y="794" width="3" height="39" fill="#0000ff"/>
<rect x="601" y="800" width="3" height="33" fill="#0000ff"/>
<rect x="606" y="782" width="3" height="51" fill="#0000ff"/>
<rect x="611" y="805" width="3" height="28" fill="#0000ff"/>
<rect x="616" y="813" width="3" height="20" fill="#0000ff"/>
<rect x="621" y="815" width="3" height="18" fill="#0000ff"/>
<rect x="626" y="813" width="3" height="20" fill="#0000ff"/>
<rect x="631" y="820" width="3" height="13" fill="#0000ff"/>
<rect x="636" y="815" width="3" height="18" fill="#0000ff"/>
<rect x="641" y="827" width="3" height="6" fill="#0000ff"/>
<rect x="646" y="824" width="3" height="9" fill="#0000ff"/>
<rect x="651" y="820" width="3" height="13" fill="#0000ff"/>
<rect x="656" y="816" width="3" height="17" fill="#0000ff"/>
<rect x="661" y="810" width="3" height="23" fill="#0000ff"/>
<rect x="666" y="820" width="3" height="13" fill="#0000ff"/>
<rect x="671" y="823" width="3" height="10" fill="#0000ff"/>
<rect x="676" y="824" width="3" height="9" fill="#0000ff"/>
<rect x="681" y="823" width="3" height="10" fill="#0000ff"/>
<rect x="686" y="810" width="3" height="23" fill="#0000ff"/>
<rect x="691" y="807" width="3" height="26" fill="#0000ff"/>
<rect x="696" y="779" width="3" height="54" fill="#0000ff"/>
<rect x="701" y="809" width="3" height="24" fill="#0000ff"/>
<rect x="706" y="812" width="3" height="21" fill="#0000ff"/>
<rect x="711" y="814" width="3" height="19" fill="#0000ff"/>
<rect x="716" y="802" width="3" height="31" fill="#0000ff"/>
<rect x="721" y="806" width="3" height="27" fill="#0000ff"/>
<rect x="726" y="795" width="3" height="38" fill="#0000ff"/>
<rect x="731" y="813" width="3" height="20" fill="#0000ff"/>
<rect x="736" y="809" width="3" height="24" fill="#0000ff"/>
<rect x="741" y="817" width="3" height="16" fill="#0000ff"/>
<rect x="746" y="821" width="3" height="12" fill="#0000ff"/>
<rect x="751" y="824" width="3" height="9" fill="#0000ff"/>
<rect x="756" y="820" width="3" height="13" fill="#0000ff"/>
<rect x="761" y="827" width="3" height="6" fill="#0000ff"/>
<rect x="766" y="821" width="3" height="12" fill="#0000ff"/>
<rect x="771" y="812" width="3" height="21" fill="#0000ff"/>
<rect x="776" y="819" width="3" height="14" fill="#0000ff"/>
<rect x="781" y="810" width="3" height="23" fill="#0000ff"/>
<rect x="786" y="815" width="3" height="18" fill="#0000ff"/>
<rect x="791" y="825" width="3" height="8" fill="#0000ff"/>
<rect x="796" y="824" width="3" height="9" fill="#0000ff"/>
<rect x="801" y="822" width="3" height="11" fill="#0000ff"/>
<rect x="806" y="815" width="3" height="18" fill="#0000ff"/>
<rect x="811" y="804" width="3" height="29" fill="#0000ff"/>
<rect x="816" y="811" width="3" height="22" fill="#0000ff"/>
<rect x="821" y="816" width="3" height="17" fill="#0000ff"/>
<rect x="826" y="813" width="3" height="20" fill="#0000ff"/>
<rect x="831" y="818" width="3" height="15" fill="#0000ff"/>
<rect x="836" y="815" width="3" height="18" fill="#0000ff"/>
<rect x="841" y="822" width="3" height="11" fill="#0000ff"/>
<rect x="846" y="819" width="3" height="14" fill="#0000ff"/>
<rect x="851" y="823" width="3" height="10" fill="#0000ff"/>
<rect x="856" y="825" width="3" height="8" fill="#0000ff"/>
<rect x="861" y="821" width="3" height="12" fill="#0000ff"/>
<rect x="866" y="821" width="3" height="12" fill="#0000ff"/>
<rect x="871" y="813" width="3" height="20" fill="#0000ff"/>
<rect x="876" y="800" width="3" height="33" fill="#0000ff"/>
<rect x="881" y="820" width="3" height="13" fill="#0000ff"/>
<rect x="886" y="815" width="3" height="18" fill="#0000ff"/>
<rect x="891" y="816" width="3" height="17" fill="#0000ff"/>
<rect x="896" y="813" width="3" height="20" fill="#0000ff"/>
<rect x="901" y="816" width="3" height="17" fill="#0000ff"/>
<rect x="906" y="822" width="3" height="11" fill="#0000ff"/>
<rect x="911" y="827" width="3" height="6" fill="#0000ff"/>
<rect x="916" y="823" width="3" height="10" fill="#0000ff"/>
<rect x="921" y="821" width="3" height="12" fill="#0000ff"/>
<rect x="926" y="810" width="3" height="23" fill="#0000ff"/>
<rect x="931" y="797" width="3" height="36" fill="#0000ff"/>
<rect x="936" y="805" width="3" height="28" fill="#0000ff"/>
<rect x="941" y="806" width="3" height="27" fill="#0000ff"/>
<rect x="946" y="809" width="3" height="24" fill="#0000ff"/>
<rect x="951" y="810" width="3" height="23" fill="#0000ff"/>
<rect x="956" y="804" width="3" height="29" fill="#0000ff"/>
<rect x="961" y="799" width="3" height="34" fill="#0000ff"/>
<rect x="966" y="801" width="3" height="32" fill="#0000ff"/>
<rect x="971" y="803" width="3" height="30" fill="#0000ff"/>
<rect x="976" y="817" width="3" height="16" fill="#0000ff"/>
<rect x="981" y="820" width="3" height="13" fill="#0000ff"/>
<rect x="986" y="821" width="3" height="12" fill="#0000ff"/>
<rect x="991" y="823" width="3" height="10" fill="#0000ff"/>
<rect x="996" y="825" width="3" height="8" fill="#0000ff"/>
<rect x="1001" y="827" width="3" height="6" fill="#0000ff"/>
<rect x="1006" y="825" width="3" height="8" fill="#0000ff"/>
<rect x="1011" y="801" width="3" height="32" fill="#0000ff"/>
<rect x="1016" y="814" width="3" height="19" fill="#0000ff"/>
<rect x="1021" y="823" width="3" height="10" fill="#0000ff"/>
<rect x="1026" y="819" width="3" height="14" fill="#0000ff"/>
<rect x="1031" y="823" width="3" height="10" fill="#0000ff"/>
<rect x="1036" y="821" width="3" height="12" fill="#0000ff"/>
<rect x="1041" y="823" width="3" height="10" fill="#0000ff"/>
<rect x="1046" y="809" width="3" height="24" fill="#0000ff"/>
<rect x="1051" y="807" width="3" height="26" fill="#0000ff"/>
<rect x="1056" y="786" width="3" height="47" fill="#0000ff"/>
<rect x="1061" y="799" width="3" height="34" fill="#0000ff"/>
<rect x="1066" y="809" width="3" height="24" fill="#0000ff"/>
<rect x="1071" y="804" width="3" height="29" fill="#0000ff"/>
<rect x="1076" y="807" width="3" height="26" fill="#0000ff"/>
<rect x="1081" y="806" width="3" height="27" fill="#0000ff"/>
<rect x="1086" y="790" width="3" height="43" fill="#0000ff"/>
<rect x="1091" y="804" width="3" height="29" fill="#0000ff"/>
<rect x="1096" y="817" width="3" height="16" fill="#0000ff"/>
<rect x="1101" y="815" width="3" height="18" fill="#0000ff"/>
<rect x="1106" y="821" width="3" height="12" fill="#0000ff"/>
<rect x="1111" y="821" width="3" height="12" fill="#0000ff"/>
<rect x="1116" y="822" width="3" height="11" fill="#0000ff"/>
<rect x="1121" y="825" width="3" height="8" fill="#0000ff"/>
<rect x="1126" y="823" width="3" height="10" fill="#0000ff"/>
<rect x="1131" y="815" width="3" height="18" fill="#0000ff"/>
<rect x="1136" y="811" width="3" height="22" fill="#0000ff"/>
<rect x="1141" y="817" width="3" height="16" fill="#0000ff"/>
<rect x="1146" y="816" width="3" height="17" fill="#0000ff"/>
<rect x="1151" y="821" width="3" height="12" fill="#0000ff"/>
<rect x="1156" y="821" width="3" height="12" fill="#0000ff"/>
<rect x="1161" y="823" width="3" height="10" fill="#0000ff"/>
<rect x="1166" y="804" width="3" height="29" fill="#0000ff"/>
<rect x="1171" y="787" width="3" height="46" fill="#0000ff"/>
<rect x="1176" y="799" width="3" height="34" fill="#0000ff"/>
<rect x="1181" y="807" width="3" height="26" fill="#0000ff"/>
<rect x="1186" y="799" width="3" height="34" fill="#0000ff"/>
<rect x="1191" y="808" width="3" height="25" fill="#0000ff"/>
<rect x="1196" y="792" width="3" height="41" fill="#0000ff"/>
<rect x="1201" y="791" width="3" height="42" fill="#0000ff"/>
<rect x="1206" y="778" width="3" height="55" fill="#0000ff"/>
<rect x="1211" y="801" width="3" height="32" fill="#0000ff"/>
<rect x="1216" y="800" width="3" height="33" fill="#0000ff"/>
<rect x="1221" y="807" width="3" height="26" fill="#0000ff"/>
<rect x="1226" y="808" width="3" height="25" fill="#0000ff"/>
<rect x="1231" y="816" width="3" height="17" fill="#0000ff"/>
<rect x="1236" y="823" width="3" height="10" fill="#0000ff"/>
<rect x="1241" y="825" width="3" height="8" fill="#0000ff"/>
<rect x="1246" y="826" width="3" height="7" fill="#0000ff"/>
<rect x="1251" y="820" width="3" height="13" fill="#0000ff"/>
<rect x="1256" y="820" width="3" height="13" fill="#0000ff"/>
<rect x="1261" y="823" width="3" height="10" fill="#0000ff"/>
<rect x="1266" y="825" width="3" height="8" fill="#0000ff"/>
<rect x="1271" y="815" width="3" height="18" fill="#0000ff"/>
<rect x="1276" y="811" width="3" height="22" fill="#0000ff"/>
<rect x="1281" y="815" width="3" height="18" fill="#0000ff"/>
<rect x="1286" y="808" width="3" height="25" fill="#0000ff"/>
<rect x="1291" y="794" width="3" height="39" fill="#0000ff"/>
<rect x="1296" y="794" width="3" height="39" fill="#0000ff"/>
<rect x="1301" y="799" width="3" height="34" fill="#0000ff"/>
<rect x="1306" y="785" width="3" height="48" fill="#0000ff"/>
<rect x="1311" y="781" width="3" height="52" fill="#0000ff"/>
<rect x="1316" y="795" width="3" height="38" fill="#0000ff"/>
<rect x="1321" y="794" width="3" height="39" fill="#0000ff"/>
<rect x="1326" y="784" width="3" height="49" fill="#0000ff"/>
<rect x="1331" y="799" width="3" height="34" fill="#0000ff"/>
<rect x="1336" y="809" width="3" height="24" fill="#0000ff"/>
<rect x="1341" y="814" width="3" height="19" fill="#0000ff"/>
<rect x="1346" y="819" width="3" height="14" fill="#0000ff"/>
<rect x="1351" y="821" width="3" height="12" fill="#0000ff"/>
<rect x="1356" y="823" width="3" height="10" fill="#0000ff"/>
<rect x="1361" y="825" width="3" height="8" fill="#0000ff"/>
<rect x="1366" y="820" width="3" height="13" fill="#0000ff"/>
<rect x="1371" y="815" width="3" height="18" fill="#0000ff"/>
<rect x="1376" y="813" width="3" height="20" fill="#0000ff"/>
<rect x="1381" y="820" width="3" height="13" fill="#0000ff"/>
<rect x="1386" y="822" width="3" height="11" fill="#0000ff"/>
<rect x="1391" y="825" width="3" height="8" fill="#0000ff"/>
<rect x="1396" y="825" width="3" height="8" fill="#0000ff"/>
<rect x="1401" y="824" width="3" height="9" fill="#0000ff"/>
<rect x="1406" y="811" width="3" height="22" fill="#0000ff"/>
<rect x="1411" y="801" width="3" height="32" fill="#0000ff"/>
<rect x="1416" y="800" width="3" height="33" fill="#0000ff"/>
<rect x="1421" y="800" width="3" height="33" fill="#0000ff"/>
<rect x="1426" y="807" width="3" height="26" fill="#0000ff"/>
<rect x="1431" y="799" width="3" height="34" fill="#0000ff"/>
<rect x="1436" y="806" width="3" height="27" fill="#0000ff"/>
<rect x="1441" y="802" width="3" height="31" fill="#0000ff"/>
<rect x="1446" y="790" width="3" height="43" fill="#0000ff"/>
<rect x="1451" y="802" width="3" height="31" fill="#0000ff"/>
<rect x="1456" y="809" width="3" height="24" fill="#0000ff"/>
<rect x="1461" y="814" width="3" height="19" fill="#0000ff"/>
<rect x="1466" y="814" width="3" height="19" fill="#0000ff"/>
<rect x="1471" y="822" width="3" height="11" fill="#0000ff"/>
<rect x="1476" y="822" width="3" height="11" fill="#0000ff"/>
<rect x="1481" y="826" width="3" height="7" fill="#0000ff"/>
<rect x="1486" y="825" width="3" height="8" fill="#0000ff"/>
<rect x="1491" y="816" width="3" height="17" fill="#0000ff"/>
<rect x="1496" y="822" width="3" height="11" fill="#0000ff"/>
<rect x="1501" y="822" width="3" height="11" fill="#0000ff"/>
<rect x="1506" y="814" width="3" height="19" fill="#0000ff"/>
<rect x="1511" y="821" width="3" height="12" fill="#0000ff"/>
<rect x="1516" y="823" width="3" height="10" fill="#0000ff"/>
<rect x="1521" y="818" width="3" height="15" fill="#0000ff"/>
<rect x="1526" y="810" width="3" height="23" fill="#0000ff"/>
<rect x="1531" y="799" width="3" height="34" fill="#0000ff"/>
<rect x="1536" y="789" width="3" height="44" fill="#0000ff"/>
<rect x="1541" y="803" width="3" height="30" fill="#0000ff"/>
<rect x="1546" y="813" width="3" height="20" fill="#0000ff"/>
<rect x="1551" y="827" width="3" height="6" fill="#0000ff"/>
<rect x="1556" y="827" width="25" height="1" fill="#000"/>
</g>
<g shape-rendering="crispEdges">
<rect x="1" y="879" width="3" height="1" fill="#ff0000"/>
<rect x="41" y="879" width="3" height="1" fill="#ff0000"/>
<rect x="46" y="879" width="3" height="1" fill="#ff0000"/>
<rect x="51" y="879" width="3" height="1" fill="#ff0000"/>
<rect x="61" y="879" width="3" height="1" fill="#ff0000"/>
<rect x="66" y="879" width="3" height="1" fill="#ff0000"/>
<rect x="71" y="879" width="3" height="1" fill="#ff0000"/>
<rect x="76" y="879" width="3" height="1" fill="#ff0000"/>
<rect x="81" y="879" width="3" height="1" fill="#ff0000"/>
<rect x="86" y="879" width="3" height="1" fill="#ff0000"/>
<rect x="91" y="879" width="3" height="1" fill="#ff0000"/>
<rect x="96" y="879" width="3" height="3" fill="#ff0000"/>
<rect x="101" y="879" width="3" height="4" fill="#ff0000"/>
<rect x="106" y="879" width="3" height="2" fill="#ff0000"/>
<rect x="111" y="879" width="3" height="2" fill="#ff0000"/>
<rect x="116" y="879" width="3" height="1" fill="#ff0000"/>
<rect x="121" y="879" width="3" height="3" fill="#ff0000"/>
<rect x="126" y="879" width="3" height="5" fill="#ff0000"/>
<rect x="131" y="879" width="3" height="6" fill="#ff0000"/>
<rect x="136" y="879" width="3" height="7" fill="#ff0000"/>
<rect x="141" y="879" width="3" height="7" fill="#ff0000"/>
<rect x="146" y="879" width="3" height="7" fill="#ff0000"/>
<rect x="151" y="879" width="3" height="6" fill="#ff0000"/>
<rect x="156" y="879" width="3" height="6" fill="#ff0000"/>
<rect x="161" y="879" width="3" height="4" fill="#ff0000"/>
<rect x="166" y="879" width="3" height="3" fill="#ff0000"/>
<rect x="171" y="879" width="3" height="2" fill="#ff0000"/>
<rect x="176" y="879" width="3" height="3" fill="#ff0000"/>
<rect x="181" y="879" width="3" height="3" fill="#ff0000"/>
<rect x="186" y="879" width="3" height="4" fill="#ff0000"/>
<rect x="191" y="879" width="3" height="4" fill="#ff0000"/>
<rect x="196" y="879" width="3" height="3" fill="#ff0000"/>
<rect x="201" y="879" width="3" height="3" fill="#ff0000"/>
<rect x="206" y="879" width="3" height="2" fill="#ff0000"/>
<rect x="211" y="879" width="3" height="4" fill="#ff0000"/>
<rect x="216" y="879" width="3" height="5" fill="#ff0000"/>
<rect x="221" y="879" width="3" height="6" fill="#ff0000"/>
<rect x="226" y="879" width="3" height="7" fill="#ff0000"/>
<rect x="231" y="879" width="3" height="7" fill="#ff0000"/>
<rect x="236" y="879" width="3" height="10" fill="#ff0000"/>
<rect x="241" y="879" width="3" height="10" fill="#ff0000"/>
<rect x="246" y="879" width="3" height="9" fill="#ff0000"/>
<rect x="251" y="879" width="3" height="8" fill="#ff0000"/>
<rect x="256" y="879" width="3" height="7" fill="#ff0000"/>
<rect x="261" y="879" width="3" height="6" fill="#ff0000"/>
<rect x="266" y="879" width="3" height="4" fill="#ff0000"/>
<rect x="271" y="879" width="3" height="2" fill="#ff0000"/>
<rect x="276" y="879" width="3" height="1" fill="#ff0000"/>
<rect x="286" y="879" width="3" height="1" fill="#ff0000"/>
<rect x="291" y="878" width="3" height="2" fill="#ff0000"/>
<rect x="296" y="876" width="3" height="4" fill="#ff0000"/>
<rect x="301" y="875" width="3" height="5" fill="#ff0000"/>
<rect x="306" y="875" width="3" height="5" fill="#ff0000"/>
<rect x="311" y="875" width="3" height="5" fill="#ff0000"/>
<rect x="316" y="876" width="3" height="4" fill="#ff0000"/>
<rect x="321" y="876" width="3" height="4" fill="#ff0000"/>
<rect x="326" y="876" width="3" height="4" fill="#ff0000"/>
<rect x="331" y="875" width="3" height="5" fill="#ff0000"/>
<rect x="336" y="876" width="3" height="4" fill="#ff0000"/>
<rect x="341" y="877" width="3" height="3" fill="#ff0000"/>
<rect x="346" y="877" width="3" height="3" fill="#ff0000"/>
<rect x="351" y="877" width="3" height="3" fill="#ff0000"/>
<rect x="356" y="878" width="3" height="2" fill="#ff0000"/>
<rect x="361" y="877" width="3" height="3" fill="#ff0000"/>
<rect x="366" y="876" width="3" height="4" fill="#ff0000"/>
<rect x="371" y="875" width="3" height="5" fill="#ff0000"/>
<rect x="376" y="874" width="3" height="6" fill="#ff0000"/>
<rect x="381" y="873" width="3" height="7" fill="#ff0000"/>
<rect x="386" y="873" width="3" height="7" fill="#ff0000"/>
<rect x="391" y="872" width="3" height="8" fill="#ff0000"/>
<rect x="396" y="873" width="3" height="7" fill="#ff0000"/>
<rect x="401" y="872" width="3" height="8" fill="#ff0000"/>
<rect x="406" y="873" width="3" height="7" fill="#ff0000"/>
<rect x="411" y="874" width="3" height="6" fill="#ff0000"/>
<rect x="416" y="874" width="3" height="6" fill="#ff0000"/>
<rect x="421" y="873" width="3" height="7" fill="#ff0000"/>
<rect x="426" y="873" width="3" height="7" fill="#ff0000"/>
<rect x="431" y="874" width="3" height="6" fill="#ff0000"/>
<rect x="436" y="874" width="3" height="6" fill="#ff0000"/>
<rect x="441" y="875" width="3" height="5" fill="#ff0000"/>
<rect x="446" y="877" width="3" height="3" fill="#ff0000"/>
<rect x="451" y="878" width="3" height="2" fill="#ff0000"/>
<rect x="456" y="879" width="3" height="1" fill="#ff0000"/>
<rect x="466" y="879" width="3" height="1" fill="#ff0000"/>
<rect x="471" y="879" width="3" height="2" fill="#ff0000"/>
<rect x="476" y="879" width="3" height="4" fill="#ff0000"/>
<rect x="481" y="879" width="3" height="5" fill="#ff0000"/>
<rect x="486" y="879" width="3" height="5" fill="#ff0000"/>
<rect x="491" y="879" width="3" height="4" fill="#ff0000"/>
<rect x="496" y="879" width="3" height="3" fill="#ff0000"/>
<rect x="501" y="879" width="3" height="2" fill="#ff0000"/>
<rect x="506" y="879" width="3" height="1" fill="#ff0000"/>
<rect x="521" y="879" width="3" height="1" fill="#ff0000"/>
<rect x="526" y="879" width="3" height="1" fill="#ff0000"/>
<rect x="531" y="879" width="3" height="1" fill="#ff0000"/>
<rect x="536" y="878" width="3" height="2" fill="#ff0000"/>
<rect x="541" y="878" width="3" height="2" fill="#ff0000"/>
<rect x="546" y="878" width="3" height="2" fill="#ff0000"/>
<rect x="551" y="879" width="3" height="1" fill="#ff0000"/>
<rect x="556" y="879" width="3" height="1" fill="#ff0000"/>
<rect x="561" y="879" width="3" height="1" fill="#ff0000"/>
<rect x="576" y="879" width="3" height="1" fill="#ff0000"/>
<rect x="601" y="879" width="3" height="1" fill="#ff0000"/>
<rect x="606" y="879" width="3" height="1" fill="#ff0000"/>
<rect x="611" y="879" width="3" height="1" fill="#ff0000"/>
<rect x="616" y="879" width="3" height="3" fill="#ff0000"/>
<rect x="621" y="879" width="3" height="4" fill="#ff0000"/>
<rect x="626" y="879" width="3" height="5" fill="#ff0000"/>
<rect x="631" y="879" width="3" height="5" fill="#ff0000"/>
<rect x="636" y="879" width="3" height="5" fill="#ff0000"/>
<rect x="641" y="879" width="3" height="4" fill="#ff0000"/>
<rect x="646" y="879" width="3" height="4" fill="#ff0000"/>
<rect x="651" y="879" width="3" height="3" fill="#ff0000"/>
<rect x="656" y="879" width="3" height="1" fill="#ff0000"/>
<rect x="661" y="878" width="3" height="2" fill="#ff0000"/>
<rect x="666" y="877" width="3" height="3" fill="#ff0000"/>
<rect x="671" y="876" width="3" height="4" fill="#ff0000"/>
<rect x="676" y="876" width="3" height="4" fill="#ff0000"/>
<rect x="681" y="876" width="3" height="4" fill="#ff0000"/>
<rect x="686" y="876" width="3" height="4" fill="#ff0000"/>
<rect x="691" y="876" width="3" height="4" fill="#ff0000"/>
<rect x="696" y="870" width="3" height="10" fill="#ff0000"/>
<rect x="701" y="868" width="3" height="12" fill="#ff0000"/>
<rect x="706" y="867" width="3" height="13" fill="#ff0000"/>
<rect x="711" y="867" width="3" height="13" fill="#ff0000"/>
<rect x="716" y="868" width="3" height="12" fill="#ff0000"/>
<rect x="721" y="870" width="3" height="10" fill="#ff0000"/>
<rect x="726" y="870" width="3" height="10" fill="#ff0000"/>
<rect x="731" y="872" width="3" height="8" fill="#ff0000"/>
<rect x="736" y="874" width="3" height="6" fill="#ff0000"/>
<rect x="741" y="876" width="3" height="4" fill="#ff0000"/>
<rect x="746" y="877" width="3" height="3" fill="#ff0000"/>
<rect x="751" y="879" width="3" height="1" fill="#ff0000"/>
<rect x="756" y="879" width="3" height="1" fill="#ff0000"/>
<rect x="766" y="879" width="3" height="1" fill="#ff0000"/>
<rect x="771" y="879" width="3" height="2" fill="#ff0000"/>
<rect x="776" y="879" width="3" height="2" fill="#ff0000"/>
<rect x="781" y="879" width="3" height="3" fill="#ff0000"/>
<rect x="786" y="879" width="3" height="3" fill="#ff0000"/>
<rect x="791" y="879" width="3" height="3" fill="#ff0000"/>
<rect x="796" y="879" width="3" height="3" fill="#ff0000"/>
<rect x="801" y="879" width="3" height="3" fill="#ff0000"/>
<rect x="806" y="879" width="3" height="3" fill="#ff0000"/>
<rect x="811" y="879" width="3" height="1" fill="#ff0000"/>
<rect x="816" y="879" width="3" height="1" fill="#ff0000"/>
<rect x="821" y="879" width="3" height="2" fill="#ff0000"/>
<rect x="826" y="879" width="3" height="3" fill="#ff0000"/>
<rect x="831" y="879" width="3" height="4" fill="#ff0000"/>
<rect x="836" y="879" width="3" height="5" fill="#ff0000"/>
<rect x="841" y="879" width="3" height="6" fill="#ff0000"/>
<rect x="846" y="879" width="3" height="6" fill="#ff0000"/>
<rect x="851" y="879" width="3" height="6" fill="#ff0000"/>
<rect x="856" y="879" width="3" height="6" fill="#ff0000"/>
<rect x="861" y="879" width="3" height="5" fill="#ff0000"/>
<rect x="866" y="879" width="3" height="4" fill="#ff0000"/>
<rect x="871" y="879" width="3" height="4" fill="#ff0000"/>
<rect x="876" y="879" width="3" height="7" fill="#ff0000"/>
<rect x="881" y="879" width="3" height="10" fill="#ff0000"/>
<rect x="886" y="879" width="3" height="10" fill="#ff0000"/>
<rect x="891" y="879" width="3" height="11" fill="#ff0000"/>
<rect x="896" y="879" width="3" height="11" fill="#ff0000"/>
<rect x="901" y="879" width="3" height="10" fill="#ff0000"/>
<rect x="906" y="879" width="3" height="8" fill="#ff0000"/>
<rect x="911" y="879" width="3" height="7" fill="#ff0000"/>
<rect x="916" y="879" width="3" height="6" fill="#ff0000"/>
<rect x="921" y="879" width="3" height="5" fill="#ff0000"/>
<rect x="926" y="879" width="3" height="3" fill="#ff0000"/>
<rect x="931" y="879" width="3" height="1" fill="#ff0000"/>
<rect x="936" y="879" width="3" height="1" fill="#ff0000"/>
<rect x="941" y="878" width="3" height="2" fill="#ff0000"/>
<rect x="946" y="878" width="3" height="2" fill="#ff0000"/>
<rect x="951" y="877" width="3" height="3" fill="#ff0000"/>
<rect x="956" y="877" width="3" height="3" fill="#ff0000"/>
<rect x="961" y="877" width="3" height="3" fill="#ff0000"/>
<rect x="966" y="876" width="3" height="4" fill="#ff0000"/>
<rect x="971" y="876" width="3" height="4" fill="#ff0000"/>
<rect x="976" y="875" width="3" height="5" fill="#ff0000"/>
<rect x="981" y="875" width="3" height="5" fill="#ff0000"/>
<rect x="986" y="875" width="3" height="5" fill="#ff0000"/>
<rect x="991" y="876" width="3" height="4" fill="#ff0000"/>
<rect x="996" y="876" width="3" height="4" fill="#ff0000"/>
<rect x="1001" y="876" width="3" height="4" fill="#ff0000"/>
<rect x="1006" y="877" width="3" height="3" fill="#ff0000"/>
<rect x="1011" y="877" width="3" height="3" fill="#ff0000"/>
<rect x="1016" y="877" width="3" height="3" fill="#ff0000"/>
<rect x="1021" y="878" width="3" height="2" fill="#ff0000"/>
<rect x="1026" y="878" width="3" height="2" fill="#ff0000"/>
<rect x="1031" y="879" width="3" height="1" fill="#ff0000"/>
<rect x="1041" y="879" width="3" height="1" fill="#ff0000"/>
<rect x="1046" y="879" width="3" height="2" fill="#ff0000"/>
<rect x="1051" y="879" width="3" height="2" fill="#ff0000"/>
<rect x="1061" y="879" width="3" height="1" fill="#ff0000"/>
<rect x="1066" y="878" width="3" height="2" fill="#ff0000"/>
<rect x="1071" y="878" width="3" height="2" fill="#ff0000"/>
<rect x="1076" y="877" width="3" height="3" fill="#ff0000"/>
<rect x="1081" y="876" width="3" height="4" fill="#ff0000"/>
<rect x="1086" y="874" width="3" height="6" fill="#ff0000"/>
<rect x="1091" y="874" width="3" height="6" fill="#ff0000"/>
<rect x="1096" y="874" width="3" height="6" fill="#ff0000"/>
<rect x="1101" y="874" width="3" height="6" fill="#ff0000"/>
<rect x="1106" y="874" width="3" height="6" fill="#ff0000"/>
<rect x="1111" y="875" width="3" height="5" fill="#ff0000"/>
<rect x="1116" y="876" width="3" height="4" fill="#ff0000"/>
<rect x="1121" y="877" width="3" height="3" fill="#ff0000"/>
<rect x="1126" y="878" width="3" height="2" fill="#ff0000"/>
<rect x="1131" y="878" width="3" height="2" fill="#ff0000"/>
<rect x="1136" y="877" width="3" height="3" fill="#ff0000"/>
<rect x="1141" y="877" width="3" height="3" fill="#ff0000"/>
<rect x="1146" y="877" width="3" height="3" fill="#ff0000"/>
<rect x="1151" y="878" width="3" height="2" fill="#ff0000"/>
<rect x="1156" y="879" width="3" height="1" fill="#ff0000"/>
<rect x="1161" y="879" width="3" height="1" fill="#ff0000"/>
<rect x="1176" y="879" width="3" height="2" fill="#ff0000"/>
<rect x="1181" y="879" width="3" height="4" fill="#ff0000"/>
<rect x="1186" y="879" width="3" height="3" fill="#ff0000"/>
<rect x="1191" y="879" width="3" height="3" fill="#ff0000"/>
<rect x="1196" y="879" width="3" height="3" fill="#ff0000"/>
<rect x="1201" y="879" width="3" height="5" fill="#ff0000"/>
<rect x="1206" y="879" width="3" height="5" fill="#ff0000"/>
<rect x="1211" y="879" width="3" height="4" fill="#ff0000"/>
<rect x="1216" y="879" width="3" height="1" fill="#ff0000"/>
<rect x="1221" y="879" width="3" height="1" fill="#ff0000"/>
<rect x="1226" y="879" width="3" height="1" fill="#ff0000"/>
<rect x="1231" y="879" width="3" height="1" fill="#ff0000"/>
<rect x="1236" y="879" width="3" height="1" fill="#ff0000"/>
<rect x="1241" y="878" width="3" height="2" fill="#ff0000"/>
<rect x="1246" y="878" width="3" height="2" fill="#ff0000"/>
<rect x="1251" y="878" width="3" height="2" fill="#ff0000"/>
<rect x="1256" y="878" width="3" height="2" fill="#ff0000"/>
<rect x="1261" y="878" width="3" height="2" fill="#ff0000"/>
<rect x="1266" y="879" width="3" height="1" fill="#ff0000"/>
<rect x="1271" y="878" width="3" height="2" fill="#ff0000"/>
<rect x="1276" y="877" width="3" height="3" fill="#ff0000"/>
<rect x="1281" y="878" width="3" height="2" fill="#ff0000"/>
<rect x="1286" y="878" width="3" height="2" fill="#ff0000"/>
<rect x="1291" y="878" width="3" height="2" fill="#ff0000"/>
<rect x="1296" y="879" width="3" height="1" fill="#ff0000"/>
<rect x="1301" y="878" width="3" height="2" fill="#ff0000"/>
<rect x="1306" y="879" width="3" height="1" fill="#ff0000"/>
<rect x="1311" y="879" width="3" height="4" fill="#ff0000"/>
<rect x="1316" y="879" width="3" height="7" fill="#ff0000"/>
<rect x="1321" y="879" width="3" height="7" fill="#ff0000"/>
<rect x="1326" y="879" width="3" height="8" fill="#ff0000"/>
<rect x="1331" y="879" width="3" height="9" fill="#ff0000"/>
<rect x="1336" y="879" width="3" height="8" fill="#ff0000"/>
<rect x="1341" y="879" width="3" height="7" fill="#ff0000"/>
<rect x="1346" y="879" width="3" height="7" fill="#ff0000"/>
<rect x="1351" y="879" width="3" height="6" fill="#ff0000"/>
<rect x="1356" y="879" width="3" height="4" fill="#ff0000"/>
<rect x="1361" y="879" width="3" height="4" fill="#ff0000"/>
<rect x="1366" y="879" width="3" height="2" fill="#ff0000"/>
<rect x="1371" y="879" width="3" height="2" fill="#ff0000"/>
<rect x="1381" y="879" width="3" height="1" fill="#ff0000"/>
<rect x="1386" y="879" width="3" height="1" fill="#ff0000"/>
<rect x="1391" y="879" width="3" height="1" fill="#ff0000"/>
<rect x="1396" y="879" width="3" height="1" fill="#ff0000"/>
<rect x="1416" y="878" width="3" height="2" fill="#ff0000"/>
<rect x="1421" y="876" width="3" height="4" fill="#ff0000"/>
<rect x="1426" y="877" width="3" height="3" fill="#ff0000"/>
<rect x="1431" y="878" width="3" height="2" fill="#ff0000"/>
<rect x="1436" y="878" width="3" height="2" fill="#ff0000"/>
<rect x="1441" y="878" width="3" height="2" fill="#ff0000"/>
<rect x="1446" y="878" width="3" height="2" fill="#ff0000"/>
<rect x="1451" y="877" width="3" height="3" fill="#ff0000"/>
<rect x="1456" y="876" width="3" height="4" fill="#ff0000"/>
<rect x="1461" y="876" width="3" height="4" fill="#ff0000"/>
<rect x="1466" y="878" width="3" height="2" fill="#ff0000"/>
<rect x="1471" y="878" width="3" height="2" fill="#ff0000"/>
<rect x="1476" y="878" width="3" height="2" fill="#ff0000"/>
<rect x="1481" y="878" width="3" height="2" fill="#ff0000"/>
<rect x="1486" y="878" width="3" height="2" fill="#ff0000"/>
<rect x="1491" y="879" width="3" height="1" fill="#ff0000"/>
<rect x="1496" y="879" width="3" height="1" fill="#ff0000"/>
<rect x="1501" y="879" width="3" height="1" fill="#ff0000"/>
<rect x="1506" y="879" width="3" height="2" fill="#ff0000"/>
<rect x="1511" y="879" width="3" height="3" fill="#ff0000"/>
<rect x="1516" y="879" width="3" height="4" fill="#ff0000"/>
<rect x="1521" y="879" width="3" height="4" fill="#ff0000"/>
<rect x="1526" y="879" width="3" height="4" fill="#ff0000"/>
<rect x="1531" y="879" width="3" height="5" fill="#ff0000"/>
<rect x="1536" y="879" width="3" height="6" fill="#ff0000"/>
<rect x="1541" y="879" width="3" height="7" fill="#ff0000"/>
<rect x="1546" y="879" width="3" height="7" fill="#ff0000"/>
<rect x="1551" y="879" width="3" height="5" fill="#ff0000"/>
</g>
<polyline points="-2.5,870.0 2.5,870.0 7.5,869.9 12.5,869.9 17.5,869.9 22.5,869.9 27.5,869.8 32.5,869.8 37.5,869.8 42.5,869.7 47.5,869.5 52.5,869.4 57.5,869.4 62.5,869.6 67.5,869.8 72.5,870.0 77.5,870.2 82.5,870.4 87.5,870.6 92.5,870.9 97.5,871.6 102.5,872.6 107.5,873.1 112.5,873.7 117.5,873.9 122.5,874.5 127.5,875.7 132.5,877.3 137.5,879.0 142.5,880.8 147.5,882.6 152.5,884.2 157.5,885.7 162.5,886.6 167.5,887.4 172.5,887.8 177.5,888.5 182.5,889.2 187.5,890.0 192.5,890.9 197.5,891.7 202.5,892.4 207.5,893.0 212.5,893.9 217.5,895.1 222.5,896.6 227.5,898.3 232.5,900.0 237.5,902.3 242.5,904.9 247.5,907.1 252.5,909.0 257.5,910.6 262.5,912.2 267.5,913.3 272.5,913.9 277.5,914.3 282.5,914.4 287.5,914.2 292.5,913.6 297.5,912.6 302.5,911.3 307.5,910.0 312.5,908.9 317.5,908.0 322.5,907.0 327.5,906.0 332.5,904.8 337.5,903.7 342.5,902.9 347.5,902.1 352.5,901.2 357.5,900.6 362.5,899.9 367.5,899.0 372.5,897.8 377.5,896.2 382.5,894.5 387.5,892.6 392.5,890.6 397.5,888.8 402.5,886.9 407.5,885.1 412.5,883.5 417.5,882.0 422.5,880.3 427.5,878.6 432.5,877.0 437.5,875.6 442.5,874.4 447.5,873.5 452.5,873.0 457.5,872.8 462.5,872.9 467.5,873.1 472.5,873.6 477.5,874.6 482.5,875.7 487.5,877.0 492.5,877.9 497.5,878.7 502.5,879.1 507.5,879.3 512.5,879.4 517.5,879.4 522.5,879.2 527.5,879.0 532.5,878.7 537.5,878.1 542.5,877.6 547.5,877.1 552.5,876.8 557.5,876.5 562.5,876.3 567.5,876.2 572.5,876.2 577.5,876.0 582.5,876.1 587.5,876.1 592.5,876.1 597.5,875.9 602.5,875.7 607.5,875.8 612.5,876.2 617.5,876.9 622.5,877.9 627.5,879.0 632.5,880.2 637.5,881.5 642.5,882.5 647.5,883.4 652.5,884.1 657.5,884.4 662.5,884.0 667.5,883.2 672.5,882.3 677.5,881.2 682.5,880.3 687.5,879.3 692.5,878.3 697.5,875.7 702.5,872.8 707.5,869.5 712.5,866.2 717.5,863.2 722.5,860.6 727.5,858.2 732.5,856.2 737.5,854.7 742.5,853.8 747.5,853.1 752.5,852.8 757.5,852.6 762.5,852.6 767.5,852.8 772.5,853.2 777.5,853.8 782.5,854.4 787.5,855.1 792.5,855.8 797.5,856.5 802.5,857.2 807.5,857.9 812.5,858.2 817.5,858.5 822.5,859.0 827.5,859.7 832.5,860.6 837.5,861.9 842.5,863.3 847.5,864.8 852.5,866.3 857.5,867.7 862.5,869.0 867.5,870.0 872.5,870.9 877.5,872.8 882.5,875.3 887.5,877.9 892.5,880.6 897.5,883.5 902.5,886.0 907.5,888.1 912.5,889.9 917.5,891.3 922.5,892.4 927.5,893.1 932.5,893.3 937.5,893.1 942.5,892.5 947.5,891.9 952.5,891.2 957.5,890.3 962.5,889.5 967.5,888.6 972.5,887.6 977.5,886.4 982.5,885.2 987.5,884.0 992.5,882.9 997.5,882.0 1002.5,881.0 1007.5,880.2 1012.5,879.5 1017.5,878.8 1022.5,878.3 1027.5,877.9 1032.5,877.7 1037.5,877.7 1042.5,877.9 1047.5,878.4 1052.5,878.9 1057.5,878.8 1062.5,878.5 1067.5,877.9 1072.5,877.3 1077.5,876.4 1082.5,875.3 1087.5,873.9 1092.5,872.3 1097.5,870.7 1102.5,869.2 1107.5,867.8 1112.5,866.6 1117.5,865.7 1122.5,865.0 1127.5,864.6 1132.5,864.1 1137.5,863.3 1142.5,862.6 1147.5,861.9 1152.5,861.4 1157.5,861.2 1162.5,861.4 1167.5,861.5 1172.5,861.5 1177.5,862.1 1182.5,863.0 1187.5,863.8 1192.5,864.5 1197.5,865.2 1202.5,866.4 1207.5,867.6 1212.5,868.7 1217.5,869.0 1222.5,868.8 1227.5,868.6 1232.5,868.4 1237.5,868.2 1242.5,867.8 1247.5,867.3 1252.5,866.7 1257.5,866.2 1262.5,865.8 1267.5,865.5 1272.5,864.9 1277.5,864.2 1282.5,863.7 1287.5,863.2 1292.5,862.7 1297.5,862.6 1302.5,862.1 1307.5,861.8 1312.5,862.9 1317.5,864.6 1322.5,866.4 1327.5,868.5 1332.5,870.7 1337.5,872.7 1342.5,874.6 1347.5,876.2 1352.5,877.6 1357.5,878.6 1362.5,879.5 1367.5,880.1 1372.5,880.5 1377.5,880.4 1382.5,880.2 1387.5,879.9 1392.5,879.7 1397.5,879.5 1402.5,879.5 1407.5,879.6 1412.5,879.5 1417.5,879.1 1422.5,878.1 1427.5,877.4 1432.5,876.9 1437.5,876.3 1442.5,875.7 1447.5,875.3 1452.5,874.5 1457.5,873.5 1462.5,872.5 1467.5,871.9 1472.5,871.5 1477.5,871.0 1482.5,870.4 1487.5,869.9 1492.5,869.5 1497.5,869.4 1502.5,869.5 1507.5,870.1 1512.5,870.9 1517.5,871.8 1522.5,872.7 1527.5,873.7 1532.5,875.1 1537.5,876.7 1542.5,878.5 1547.5,880.2 1552.5,881.5" fill="none" stroke="#00ff00" stroke-width="1" stroke-dasharray="6,4" shape-rendering="crispEdges"/>
<polyline points="-2.5,869.7 2.5,869.7 7.5,869.8 12.5,869.8 17.5,869.9 22.5,869.8 27.5,869.6 32.5,869.7 37.5,869.9 42.5,869.1 47.5,869.0 52.5,868.7 57.5,869.5 62.5,870.3 67.5,870.7 72.5,870.8 77.5,871.0 82.5,871.1 87.5,871.3 92.5,872.3 97.5,874.5 102.5,876.4 107.5,875.3 112.5,875.8 117.5,874.7 122.5,877.2 127.5,880.4 132.5,883.4 137.5,886.0 142.5,888.0 147.5,889.9 152.5,890.7 157.5,891.4 162.5,890.5 167.5,890.6 172.5,889.3 177.5,891.0 182.5,892.0 187.5,893.6 192.5,894.4 197.5,894.7 202.5,895.2 207.5,895.3 212.5,897.7 217.5,899.9 222.5,902.5 227.5,904.9 232.5,906.7 237.5,911.9 242.5,914.9 247.5,916.0 252.5,916.5 257.5,917.3 262.5,918.6 267.5,917.6 272.5,916.4 277.5,915.7 282.5,914.8 287.5,913.3 292.5,911.3 297.5,908.5 302.5,906.0 307.5,905.1 312.5,904.4 317.5,904.4 322.5,903.0 327.5,901.7 332.5,900.0 337.5,899.5 342.5,899.7 347.5,898.7 352.5,897.9 357.5,898.3 362.5,896.8 367.5,895.4 372.5,892.9 377.5,890.1 382.5,887.5 387.5,885.2 392.5,882.7 397.5,881.6 402.5,879.2 407.5,877.8 412.5,877.2 417.5,875.8 422.5,873.6 427.5,871.9 432.5,870.8 437.5,869.9 442.5,869.5 447.5,870.2 452.5,870.8 457.5,871.9 462.5,873.2 467.5,874.3 472.5,875.6 477.5,878.4 482.5,880.3 487.5,881.9 492.5,881.8 497.5,881.7 502.5,880.8 507.5,880.2 512.5,879.6 517.5,879.3 522.5,878.5 527.5,878.4 532.5,877.4 537.5,876.0 542.5,875.3 547.5,875.3 552.5,875.4 557.5,875.5 562.5,875.7 567.5,875.9 572.5,875.8 577.5,875.5 582.5,876.2 587.5,876.1 592.5,876.1 597.5,875.5 602.5,874.7 607.5,876.4 612.5,877.6 617.5,879.6 622.5,881.8 627.5,883.5 632.5,885.2 637.5,886.5 642.5,886.6 647.5,886.9 652.5,887.1 657.5,885.6 662.5,882.3 667.5,879.9 672.5,878.6 677.5,877.1 682.5,876.6 687.5,875.4 692.5,874.0 697.5,865.6 702.5,860.9 707.5,856.4 712.5,853.0 717.5,851.3 722.5,850.2 727.5,848.5 732.5,848.1 737.5,849.0 742.5,849.9 747.5,850.5 752.5,851.8 757.5,851.7 762.5,852.5 767.5,853.6 772.5,854.9 777.5,856.0 782.5,857.2 787.5,857.8 792.5,858.6 797.5,859.4 802.5,860.1 807.5,860.7 812.5,859.1 817.5,860.0 822.5,860.9 827.5,862.6 832.5,864.4 837.5,867.0 842.5,868.9 847.5,870.8 852.5,872.4 857.5,873.3 862.5,873.9 867.5,874.3 872.5,874.5 877.5,880.2 882.5,885.4 887.5,888.0 892.5,891.7 897.5,895.0 902.5,896.1 907.5,896.6 912.5,897.0 917.5,896.8 922.5,897.0 927.5,895.6 932.5,894.0 937.5,892.2 942.5,890.2 947.5,889.5 952.5,888.4 957.5,886.9 962.5,886.4 967.5,885.0 972.5,883.4 977.5,881.9 982.5,880.1 987.5,879.2 992.5,878.6 997.5,878.2 1002.5,877.3 1007.5,877.0 1012.5,876.7 1017.5,876.1 1022.5,876.2 1027.5,876.3 1032.5,877.0 1037.5,877.6 1042.5,878.7 1047.5,880.1 1052.5,881.1 1057.5,878.5 1062.5,877.1 1067.5,875.4 1072.5,874.8 1077.5,873.1 1082.5,870.8 1087.5,868.0 1092.5,865.8 1097.5,864.4 1102.5,863.0 1107.5,862.2 1112.5,862.0 1117.5,862.1 1122.5,862.2 1127.5,862.8 1132.5,862.0 1137.5,860.2 1142.5,859.8 1147.5,859.0 1152.5,859.3 1157.5,860.4 1162.5,862.4 1167.5,861.6 1172.5,861.8 1177.5,864.5 1182.5,866.7 1187.5,866.8 1192.5,867.2 1197.5,868.3 1202.5,871.3 1207.5,872.5 1212.5,873.1 1217.5,870.3 1222.5,868.0 1227.5,867.8 1232.5,867.7 1237.5,867.2 1242.5,866.3 1247.5,865.2 1252.5,864.3 1257.5,864.3 1262.5,864.2 1267.5,864.2 1272.5,862.4 1277.5,861.3 1282.5,861.7 1287.5,861.3 1292.5,860.8 1297.5,862.1 1302.5,860.0 1307.5,860.9 1312.5,867.1 1317.5,871.4 1322.5,873.8 1327.5,876.7 1332.5,879.5 1337.5,881.0 1342.5,882.0 1347.5,882.8 1352.5,883.2 1357.5,882.4 1362.5,883.2 1367.5,882.5 1372.5,882.1 1377.5,879.9 1382.5,879.2 1387.5,879.1 1392.5,878.9 1397.5,878.7 1402.5,879.5 1407.5,879.8 1412.5,879.4 1417.5,877.2 1422.5,874.4 1427.5,874.4 1432.5,874.8 1437.5,873.9 1442.5,873.5 1447.5,873.8 1452.5,871.3 1457.5,869.3 1462.5,868.8 1467.5,869.5 1472.5,869.7 1477.5,868.9 1482.5,868.1 1487.5,867.7 1492.5,868.3 1497.5,868.8 1502.5,870.1 1507.5,872.5 1512.5,874.0 1517.5,875.3 1522.5,876.2 1527.5,877.7 1532.5,880.5 1537.5,883.1 1542.5,885.6 1547.5,886.9 1552.5,886.8" fill="none" stroke="#0000ff" stroke-width="1" shape-rendering="crispEdges"/>
<g shape-rendering="crispEdges">
<rect x="1553" y="881" width="28" height="1" fill="#000"/>
<rect x="1553" y="884" width="28" height="1" fill="#000"/>
<rect x="1553" y="886" width="28" height="1" fill="#000"/>
<rect x="71" y="587" width="13" height="2" fill="#0000ff"/>
<rect x="72" y="763" width="13" height="2" fill="#0000ff"/>
</g>
<g font-family="Liberation Sans, Arial, sans-serif" font-size="12px">
<text y="25" style="white-space:pre" ><tspan x="1599 1606 1609 1616 1623 1630" fill="#000">2.0400</tspan></text>
<text y="73" style="white-space:pre" ><tspan x="1599 1606 1609 1616 1623 1630" fill="#000">2.0300</tspan></text>
<text y="121" style="white-space:pre" ><tspan x="1599 1606 1609 1616 1623 1630" fill="#000">2.0200</tspan></text>
<text y="168" style="white-space:pre" ><tspan x="1599 1606 1609 1616 1623 1630" fill="#000">2.0100</tspan></text>
<text y="216" style="white-space:pre" ><tspan x="1599 1606 1609 1616 1623 1630" fill="#000">2.0000</tspan></text>
<text y="264" style="white-space:pre" ><tspan x="1599 1606 1609 1616 1623 1630" fill="#000">1.9900</tspan></text>
<text y="312" style="white-space:pre" ><tspan x="1599 1606 1609 1616 1623 1630" fill="#000">1.9800</tspan></text>
<text y="359" style="white-space:pre" ><tspan x="1599 1606 1609 1616 1623 1630" fill="#000">1.9700</tspan></text>
<text y="407" style="white-space:pre" ><tspan x="1599 1606 1609 1616 1623 1630" fill="#000">1.9600</tspan></text>
<text y="455" style="white-space:pre" ><tspan x="1599 1606 1609 1616 1623 1630" fill="#000">1.9500</tspan></text>
<text y="502" style="white-space:pre" ><tspan x="1599 1606 1609 1616 1623 1630" fill="#000">1.9400</tspan></text>
<text y="550" style="white-space:pre" ><tspan x="1599 1606 1609 1616 1623 1630" fill="#000">1.9300</tspan></text>
<text y="607" style="white-space:pre" ><tspan x="1602.5 1609.5 1616.5 1619.5 1626.5" fill="#000">64.64</tspan></text>
<text y="637" style="white-space:pre" ><tspan x="1602.5 1609.5 1616.5 1619.5 1626.5" fill="#000">36.67</tspan></text>
<text y="695" style="white-space:pre" ><tspan x="1602.5 1609.5 1616.5 1619.5 1626.5" fill="#000">71.99</tspan></text>
<text y="783" style="white-space:pre" ><tspan x="1600.5 1607.5 1614.5 1621.5 1628.5" fill="#000">10416</tspan></text>
<text y="813" style="white-space:pre" ><tspan x="1604 1611 1618 1625" fill="#000">4791</tspan></text>
<text y="871" style="white-space:pre" ><tspan x="1588.5 1595.5 1598.5 1605.5 1612.5 1619.5 1626.5 1633.5 1640.5" fill="#000">0.0032546</tspan></text>
<text y="902" style="white-space:pre" ><tspan x="1586.5 1590.5 1597.5 1600.5 1607.5 1614.5 1621.5 1628.5 1635.5 1642.5" fill="#000">-0.0038197</tspan></text>
<text y="593" style="white-space:pre" ><tspan x="1563.5 1570.5" fill="#000">70</tspan></text>
<text y="636" style="white-space:pre" ><tspan x="1563.5 1570.5" fill="#000">30</tspan></text>
<text y="681" style="white-space:pre" ><tspan x="1563.5 1570.5" fill="#000">80</tspan></text>
<text y="727" style="white-space:pre" ><tspan x="1563.5 1570.5" fill="#000">20</tspan></text>
<text y="935" style="white-space:pre" ><tspan x="2.5 9.5 16.5 23.5" fill="#000">2014</tspan></text>
<text y="935" style="white-space:pre" ><tspan x="107 114 121 124 131 138 141 148 155 158 164 171" fill="#000">11:00 10 Jan</tspan></text>
<text y="935" style="white-space:pre" ><tspan x="212 219 226 229 236 243 246 253 260 263 269 276" fill="#000">08:00 13 Jan</tspan></text>
<text y="935" style="white-space:pre" ><tspan x="317 324 331 334 341 348 351 358 365 368 374 381" fill="#000">05:00 14 Jan</tspan></text>
<text y="935" style="white-space:pre" ><tspan x="422 429 436 439 446 453 456 463 470 473 479 486" fill="#000">02:00 15 Jan</tspan></text>
<text y="935" style="white-space:pre" ><tspan x="527 534 541 544 551 558 561 568 575 578 584 591" fill="#000">23:00 15 Jan</tspan></text>
<text y="935" style="white-space:pre" ><tspan x="632 639 646 649 656 663 666 673 680 683 689 696" fill="#000">20:00 16 Jan</tspan></text>
<text y="935" style="white-space:pre" ><tspan x="737 744 751 754 761 768 771 778 785 788 794 801" fill="#000">17:00 17 Jan</tspan></text>
<text y="935" style="white-space:pre" ><tspan x="842 849 856 859 866 873 876 883 890 893 899 906" fill="#000">14:00 20 Jan</tspan></text>
<text y="935" style="white-space:pre" ><tspan x="947 954 961 964 971 978 981 988 995 998 1004 1011" fill="#000">11:00 21 Jan</tspan></text>
<text y="935" style="white-space:pre" ><tspan x="1052 1059 1066 1069 1076 1083 1086 1093 1100 1103 1109 1116" fill="#000">08:00 22 Jan</tspan></text>
<text y="935" style="white-space:pre" ><tspan x="1157 1164 1171 1174 1181 1188 1191 1198 1205 1208 1214 1221" fill="#000">05:00 23 Jan</tspan></text>
<text y="935" style="white-space:pre" ><tspan x="1262 1269 1276 1279 1286 1293 1296 1303 1310 1313 1319 1326" fill="#000">02:00 24 Jan</tspan></text>
<text y="935" style="white-space:pre" ><tspan x="1367 1374 1381 1384 1391 1398 1401 1408 1415 1418 1424 1431" fill="#000">23:00 26 Jan</tspan></text>
<text y="935" style="white-space:pre" ><tspan x="1472 1479 1486 1489 1496 1503 1506 1513 1520 1523 1529 1536" fill="#000">20:00 27 Jan</tspan></text>
<text y="935" style="white-space:pre" ><tspan x="1577 1584 1591 1594 1601 1608 1611 1618 1625 1628 1634 1641" fill="#000">17:00 28 Jan</tspan></text>
<text y="935" style="white-space:pre" ><tspan x="1626 1633 1640 1647" fill="#000">2014</tspan></text>
<text y="935" style="white-space:pre" ><tspan x="1610 1617" fill="#000">28</tspan></text>
<text y="935" style="white-space:pre" ><tspan x="1606.5" fill="#000">l</tspan></text>
<text y="594" style="white-space:pre" ><tspan x="20 29 37 40 43 46 50 57 64" fill="#000">RSI: (14)</tspan></text>
<text y="682" style="white-space:pre" ><tspan x="20 28 35 44 53 62 65 68 72 79 82 85 92 95 98 106 115 122 125 128 135 138 141 149 158 165 169 172" fill="#000">STOCH: (5, 3, SMA, 3, SMA) (</tspan><tspan x="176 184 187 194 203 206 217" fill="#0000ff">Slow %K</tspan><tspan x="225 228" fill="#0000ff">, </tspan><tspan x="231 239 242 249 258 261 272" fill="#ff0000">Slow %D</tspan><tspan x="281" fill="#000">)</tspan></text>
<text y="770" style="white-space:pre" ><tspan x="20 27 36 43 52 61" fill="#000">VOLUME</tspan></text>
<text y="858" style="white-space:pre" ><tspan x="20 29 36 45 54 57 60 64 71 78 81 84 91 98 101 104 111 115 118" fill="#000">MACD: (12, 26, 9) (</tspan><tspan x="122 131 138 147" fill="#0000ff">MACD</tspan><tspan x="156 159" fill="#0000ff">, </tspan><tspan x="162 171 178 187 196 199 207 210 217 224 231" fill="#00ff00">MACD Signal</tspan><tspan x="234 237" fill="#00ff00">, </tspan><tspan x="240 249 256 265 274 277 286 289 295" fill="#ff0000">MACD Hist</tspan><tspan x="298" fill="#000">)</tspan></text>
<rect x="1583.5" y="244.5" width="70" height="16" fill="#404040" stroke="#000" stroke-width="1" shape-rendering="crispEdges"/>
<text y="258" style="white-space:pre" ><tspan x="1596 1603 1606 1613 1620 1627 1634" fill="#fff">1.99113</tspan></text>
<rect x="1583.5" y="179.5" width="70" height="16" fill="#c0c0c0" stroke="#000" stroke-width="1" shape-rendering="crispEdges"/>
<text y="193" style="white-space:pre" ><tspan x="1596 1603 1606 1613 1620 1627 1634" fill="#000">2.00474</tspan></text>
<rect x="1583.5" y="614.5" width="70" height="16" fill="#0000ff" stroke="#000" stroke-width="1" shape-rendering="crispEdges"/>
<text y="628" style="white-space:pre" ><tspan x="1592.5 1599.5 1606.5 1609.5 1616.5 1623.5 1630.5 1637.5" fill="#fff">44.67759</tspan></text>
<rect x="1583.5" y="700.5" width="70" height="16" fill="#0000ff" stroke="#000" stroke-width="1" shape-rendering="crispEdges"/>
<text y="714" style="white-space:pre" ><tspan x="1592.5 1599.5 1606.5 1609.5 1616.5 1623.5 1630.5 1637.5" fill="#fff">47.71544</tspan></text>
<rect x="1583.5" y="709.5" width="70" height="16" fill="#ff0000" stroke="#000" stroke-width="1" shape-rendering="crispEdges"/>
<text y="723" style="white-space:pre" ><tspan x="1592.5 1599.5 1606.5 1609.5 1616.5 1623.5 1630.5 1637.5" fill="#fff">35.78817</tspan></text>
<rect x="1583.5" y="819.5" width="70" height="16" fill="#0000ff" stroke="#000" stroke-width="1" shape-rendering="crispEdges"/>
<text y="833" style="white-space:pre" ><tspan x="1596 1603 1610 1617 1624 1627 1634" fill="#fff">1133.89</tspan></text>
<rect x="1583.5" y="873.5" width="70" height="16" fill="#00ff00" stroke="#000" stroke-width="1" shape-rendering="crispEdges"/>
<rect x="1583.5" y="878.5" width="70" height="16" fill="#0000ff" stroke="#000" stroke-width="1" shape-rendering="crispEdges"/>
<rect x="1583.5" y="876.5" width="70" height="16" fill="#ff0000" stroke="#000" stroke-width="1" shape-rendering="crispEdges"/>
<text y="890" style="white-space:pre" ><tspan x="1587 1591 1598 1601 1608 1615 1622 1629 1636 1643" fill="#fff">-0.0012213</tspan></text>
</g>
</svg>
<div class="ib il" style="top:484px">Pattern start</div>
<div class="ib il" style="top:504px">Length</div>
<div class="ib il" style="top:525px">Quality</div>
<div class="ib il" style="top:546px">Magnitude</div>
<div class="ib iv" style="top:484px">10:00 2014-01-14</div>
<div class="ib iv" style="top:504px">194 bars</div>
<div class="bar" style="top:522px"><i style="width:205px"></i><b>72%</b></div>
<div class="bar" style="top:543px"><i style="width:286px"></i><b>100%</b></div>
</body></html>
